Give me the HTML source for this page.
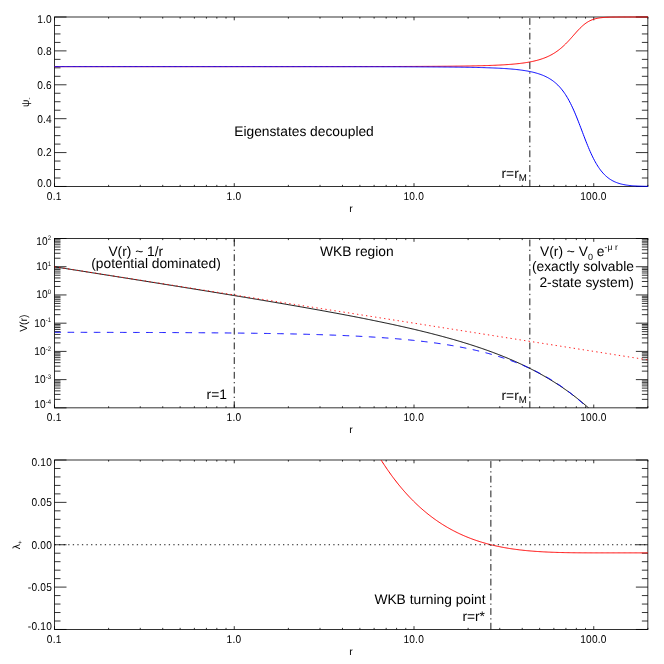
<!DOCTYPE html>
<html><head><meta charset="utf-8"><title>plot</title>
<style>
html,body{margin:0;padding:0;background:#fff;width:664px;height:664px;overflow:hidden}
svg{will-change:transform;opacity:0.999}
svg text{font-family:"Liberation Sans",sans-serif;fill:#000;text-rendering:geometricPrecision}
</style></head><body>
<svg width="664" height="664" viewBox="0 0 664 664" style="position:absolute;left:0;top:0">
<rect width="664" height="664" fill="#fff"/>
<rect x="54.5" y="17.0" width="593.36" height="169.47" stroke="#000" stroke-width="0.8" fill="none"/>
<path d="M54.50,186.47v-3.3M54.50,17.0v3.3M108.61,186.47v-1.6M108.61,17.0v1.6M140.26,186.47v-1.6M140.26,17.0v1.6M162.72,186.47v-1.6M162.72,17.0v1.6M180.14,186.47v-1.6M180.14,17.0v1.6M194.37,186.47v-1.6M194.37,17.0v1.6M206.41,186.47v-1.6M206.41,17.0v1.6M216.83,186.47v-1.6M216.83,17.0v1.6M226.03,186.47v-1.6M226.03,17.0v1.6M234.25,186.47v-3.3M234.25,17.0v3.3M288.36,186.47v-1.6M288.36,17.0v1.6M320.01,186.47v-1.6M320.01,17.0v1.6M342.47,186.47v-1.6M342.47,17.0v1.6M359.89,186.47v-1.6M359.89,17.0v1.6M374.12,186.47v-1.6M374.12,17.0v1.6M386.16,186.47v-1.6M386.16,17.0v1.6M396.58,186.47v-1.6M396.58,17.0v1.6M405.78,186.47v-1.6M405.78,17.0v1.6M414.00,186.47v-3.3M414.00,17.0v3.3M468.11,186.47v-1.6M468.11,17.0v1.6M499.76,186.47v-1.6M499.76,17.0v1.6M522.22,186.47v-1.6M522.22,17.0v1.6M539.64,186.47v-1.6M539.64,17.0v1.6M553.87,186.47v-1.6M553.87,17.0v1.6M565.91,186.47v-1.6M565.91,17.0v1.6M576.33,186.47v-1.6M576.33,17.0v1.6M585.53,186.47v-1.6M585.53,17.0v1.6M593.75,186.47v-3.3M593.75,17.0v3.3M647.86,186.47v-1.6M647.86,17.0v1.6" stroke="#000" stroke-width="0.8" fill="none"/>
<text transform="translate(54.20,199.92) scale(0.9,1)" font-size="11.3" letter-spacing="0.22" text-anchor="middle" >0.1</text>
<text transform="translate(233.95,199.92) scale(0.9,1)" font-size="11.3" letter-spacing="0.22" text-anchor="middle" >1.0</text>
<text transform="translate(413.70,199.92) scale(0.9,1)" font-size="11.3" letter-spacing="0.22" text-anchor="middle" >10.0</text>
<text transform="translate(593.45,199.92) scale(0.9,1)" font-size="11.3" letter-spacing="0.22" text-anchor="middle" >100.0</text>
<text x="351.00" y="211.57" font-size="10.4" text-anchor="middle" >r</text>
<rect x="54.5" y="238.5" width="593.36" height="169.35000000000002" stroke="#000" stroke-width="0.8" fill="none"/>
<path d="M54.50,407.85v-3.3M54.50,238.5v3.3M108.61,407.85v-1.6M108.61,238.5v1.6M140.26,407.85v-1.6M140.26,238.5v1.6M162.72,407.85v-1.6M162.72,238.5v1.6M180.14,407.85v-1.6M180.14,238.5v1.6M194.37,407.85v-1.6M194.37,238.5v1.6M206.41,407.85v-1.6M206.41,238.5v1.6M216.83,407.85v-1.6M216.83,238.5v1.6M226.03,407.85v-1.6M226.03,238.5v1.6M234.25,407.85v-3.3M234.25,238.5v3.3M288.36,407.85v-1.6M288.36,238.5v1.6M320.01,407.85v-1.6M320.01,238.5v1.6M342.47,407.85v-1.6M342.47,238.5v1.6M359.89,407.85v-1.6M359.89,238.5v1.6M374.12,407.85v-1.6M374.12,238.5v1.6M386.16,407.85v-1.6M386.16,238.5v1.6M396.58,407.85v-1.6M396.58,238.5v1.6M405.78,407.85v-1.6M405.78,238.5v1.6M414.00,407.85v-3.3M414.00,238.5v3.3M468.11,407.85v-1.6M468.11,238.5v1.6M499.76,407.85v-1.6M499.76,238.5v1.6M522.22,407.85v-1.6M522.22,238.5v1.6M539.64,407.85v-1.6M539.64,238.5v1.6M553.87,407.85v-1.6M553.87,238.5v1.6M565.91,407.85v-1.6M565.91,238.5v1.6M576.33,407.85v-1.6M576.33,238.5v1.6M585.53,407.85v-1.6M585.53,238.5v1.6M593.75,407.85v-3.3M593.75,238.5v3.3M647.86,407.85v-1.6M647.86,238.5v1.6" stroke="#000" stroke-width="0.8" fill="none"/>
<text transform="translate(54.20,421.30) scale(0.9,1)" font-size="11.3" letter-spacing="0.22" text-anchor="middle" >0.1</text>
<text transform="translate(233.95,421.30) scale(0.9,1)" font-size="11.3" letter-spacing="0.22" text-anchor="middle" >1.0</text>
<text transform="translate(413.70,421.30) scale(0.9,1)" font-size="11.3" letter-spacing="0.22" text-anchor="middle" >10.0</text>
<text transform="translate(593.45,421.30) scale(0.9,1)" font-size="11.3" letter-spacing="0.22" text-anchor="middle" >100.0</text>
<text x="351.00" y="432.95" font-size="10.4" text-anchor="middle" >r</text>
<rect x="54.5" y="460.0" width="593.36" height="169.47000000000003" stroke="#000" stroke-width="0.8" fill="none"/>
<path d="M54.50,629.47v-3.3M54.50,460.0v3.3M108.61,629.47v-1.6M108.61,460.0v1.6M140.26,629.47v-1.6M140.26,460.0v1.6M162.72,629.47v-1.6M162.72,460.0v1.6M180.14,629.47v-1.6M180.14,460.0v1.6M194.37,629.47v-1.6M194.37,460.0v1.6M206.41,629.47v-1.6M206.41,460.0v1.6M216.83,629.47v-1.6M216.83,460.0v1.6M226.03,629.47v-1.6M226.03,460.0v1.6M234.25,629.47v-3.3M234.25,460.0v3.3M288.36,629.47v-1.6M288.36,460.0v1.6M320.01,629.47v-1.6M320.01,460.0v1.6M342.47,629.47v-1.6M342.47,460.0v1.6M359.89,629.47v-1.6M359.89,460.0v1.6M374.12,629.47v-1.6M374.12,460.0v1.6M386.16,629.47v-1.6M386.16,460.0v1.6M396.58,629.47v-1.6M396.58,460.0v1.6M405.78,629.47v-1.6M405.78,460.0v1.6M414.00,629.47v-3.3M414.00,460.0v3.3M468.11,629.47v-1.6M468.11,460.0v1.6M499.76,629.47v-1.6M499.76,460.0v1.6M522.22,629.47v-1.6M522.22,460.0v1.6M539.64,629.47v-1.6M539.64,460.0v1.6M553.87,629.47v-1.6M553.87,460.0v1.6M565.91,629.47v-1.6M565.91,460.0v1.6M576.33,629.47v-1.6M576.33,460.0v1.6M585.53,629.47v-1.6M585.53,460.0v1.6M593.75,629.47v-3.3M593.75,460.0v3.3M647.86,629.47v-1.6M647.86,460.0v1.6" stroke="#000" stroke-width="0.8" fill="none"/>
<text transform="translate(54.20,642.92) scale(0.9,1)" font-size="11.3" letter-spacing="0.22" text-anchor="middle" >0.1</text>
<text transform="translate(233.95,642.92) scale(0.9,1)" font-size="11.3" letter-spacing="0.22" text-anchor="middle" >1.0</text>
<text transform="translate(413.70,642.92) scale(0.9,1)" font-size="11.3" letter-spacing="0.22" text-anchor="middle" >10.0</text>
<text transform="translate(593.45,642.92) scale(0.9,1)" font-size="11.3" letter-spacing="0.22" text-anchor="middle" >100.0</text>
<text x="351.00" y="654.57" font-size="10.4" text-anchor="middle" >r</text>
<text transform="translate(51.90,186.87) scale(0.9,1)" font-size="11.3" letter-spacing="0.22" text-anchor="end" >0.0</text>
<text transform="translate(51.90,156.48) scale(0.9,1)" font-size="11.3" letter-spacing="0.22" text-anchor="end" >0.2</text>
<text transform="translate(51.90,122.58) scale(0.9,1)" font-size="11.3" letter-spacing="0.22" text-anchor="end" >0.4</text>
<text transform="translate(51.90,88.69) scale(0.9,1)" font-size="11.3" letter-spacing="0.22" text-anchor="end" >0.6</text>
<text transform="translate(51.90,54.79) scale(0.9,1)" font-size="11.3" letter-spacing="0.22" text-anchor="end" >0.8</text>
<text transform="translate(51.90,23.00) scale(0.9,1)" font-size="11.3" letter-spacing="0.22" text-anchor="end" >1.0</text>
<path d="M54.5,186.47h12M647.86,186.47h-12M54.5,178.00h6M647.86,178.00h-6M54.5,169.52h6M647.86,169.52h-6M54.5,161.05h6M647.86,161.05h-6M54.5,152.58h12M647.86,152.58h-12M54.5,144.10h6M647.86,144.10h-6M54.5,135.63h6M647.86,135.63h-6M54.5,127.16h6M647.86,127.16h-6M54.5,118.68h12M647.86,118.68h-12M54.5,110.21h6M647.86,110.21h-6M54.5,101.73h6M647.86,101.73h-6M54.5,93.26h6M647.86,93.26h-6M54.5,84.79h12M647.86,84.79h-12M54.5,76.31h6M647.86,76.31h-6M54.5,67.84h6M647.86,67.84h-6M54.5,59.37h6M647.86,59.37h-6M54.5,50.89h12M647.86,50.89h-12M54.5,42.42h6M647.86,42.42h-6M54.5,33.95h6M647.86,33.95h-6M54.5,25.47h6M647.86,25.47h-6M54.5,17.00h12M647.86,17.00h-12" stroke="#000" stroke-width="0.8" fill="none"/>
<text transform="translate(51.30,408.05) scale(0.9,1)" font-size="11.3" letter-spacing="0.15" text-anchor="end">10<tspan font-size="6.6" dy="-4.35">-4</tspan></text>
<text transform="translate(51.30,383.12) scale(0.9,1)" font-size="11.3" letter-spacing="0.15" text-anchor="end">10<tspan font-size="6.6" dy="-4.35">-3</tspan></text>
<text transform="translate(51.30,354.90) scale(0.9,1)" font-size="11.3" letter-spacing="0.15" text-anchor="end">10<tspan font-size="6.6" dy="-4.35">-2</tspan></text>
<text transform="translate(51.30,326.68) scale(0.9,1)" font-size="11.3" letter-spacing="0.15" text-anchor="end">10<tspan font-size="6.6" dy="-4.35">-1</tspan></text>
<text transform="translate(51.30,298.45) scale(0.9,1)" font-size="11.3" letter-spacing="0.15" text-anchor="end">10<tspan font-size="6.6" dy="-4.35">0</tspan></text>
<text transform="translate(51.30,270.23) scale(0.9,1)" font-size="11.3" letter-spacing="0.15" text-anchor="end">10<tspan font-size="6.6" dy="-4.35">1</tspan></text>
<text transform="translate(51.30,244.70) scale(0.9,1)" font-size="11.3" letter-spacing="0.15" text-anchor="end">10<tspan font-size="6.6" dy="-4.35">2</tspan></text>
<path d="M54.5,407.85h12M647.86,407.85h-12M54.5,399.35h6M647.86,399.35h-6M54.5,394.38h6M647.86,394.38h-6M54.5,390.86h6M647.86,390.86h-6M54.5,388.12h6M647.86,388.12h-6M54.5,385.89h6M647.86,385.89h-6M54.5,384.00h6M647.86,384.00h-6M54.5,382.36h6M647.86,382.36h-6M54.5,380.92h6M647.86,380.92h-6M54.5,379.62h12M647.86,379.62h-12M54.5,371.13h6M647.86,371.13h-6M54.5,366.16h6M647.86,366.16h-6M54.5,362.63h6M647.86,362.63h-6M54.5,359.90h6M647.86,359.90h-6M54.5,357.66h6M647.86,357.66h-6M54.5,355.77h6M647.86,355.77h-6M54.5,354.14h6M647.86,354.14h-6M54.5,352.69h6M647.86,352.69h-6M54.5,351.40h12M647.86,351.40h-12M54.5,342.90h6M647.86,342.90h-6M54.5,337.93h6M647.86,337.93h-6M54.5,334.41h6M647.86,334.41h-6M54.5,331.67h6M647.86,331.67h-6M54.5,329.44h6M647.86,329.44h-6M54.5,327.55h6M647.86,327.55h-6M54.5,325.91h6M647.86,325.91h-6M54.5,324.47h6M647.86,324.47h-6M54.5,323.18h12M647.86,323.18h-12M54.5,314.68h6M647.86,314.68h-6M54.5,309.71h6M647.86,309.71h-6M54.5,306.18h6M647.86,306.18h-6M54.5,303.45h6M647.86,303.45h-6M54.5,301.21h6M647.86,301.21h-6M54.5,299.32h6M647.86,299.32h-6M54.5,297.69h6M647.86,297.69h-6M54.5,296.24h6M647.86,296.24h-6M54.5,294.95h12M647.86,294.95h-12M54.5,286.45h6M647.86,286.45h-6M54.5,281.48h6M647.86,281.48h-6M54.5,277.96h6M647.86,277.96h-6M54.5,275.22h6M647.86,275.22h-6M54.5,272.99h6M647.86,272.99h-6M54.5,271.10h6M647.86,271.10h-6M54.5,269.46h6M647.86,269.46h-6M54.5,268.02h6M647.86,268.02h-6M54.5,266.73h12M647.86,266.73h-12M54.5,258.23h6M647.86,258.23h-6M54.5,253.26h6M647.86,253.26h-6M54.5,249.73h6M647.86,249.73h-6M54.5,247.00h6M647.86,247.00h-6M54.5,244.76h6M647.86,244.76h-6M54.5,242.87h6M647.86,242.87h-6M54.5,241.24h6M647.86,241.24h-6M54.5,239.79h6M647.86,239.79h-6M54.5,238.50h12M647.86,238.50h-12" stroke="#000" stroke-width="0.8" fill="none"/>
<text transform="translate(52.00,629.87) scale(0.9,1)" font-size="11.3" letter-spacing="0.22" text-anchor="end" >-0.10</text>
<text transform="translate(52.00,591.00) scale(0.9,1)" font-size="11.3" letter-spacing="0.22" text-anchor="end" >-0.05</text>
<text transform="translate(52.00,548.63) scale(0.9,1)" font-size="11.3" letter-spacing="0.22" text-anchor="end" >0.00</text>
<text transform="translate(52.00,506.27) scale(0.9,1)" font-size="11.3" letter-spacing="0.22" text-anchor="end" >0.05</text>
<text transform="translate(52.00,466.00) scale(0.9,1)" font-size="11.3" letter-spacing="0.22" text-anchor="end" >0.10</text>
<path d="M54.5,629.47h12M647.86,629.47h-12M54.5,621.00h6M647.86,621.00h-6M54.5,612.52h6M647.86,612.52h-6M54.5,604.05h6M647.86,604.05h-6M54.5,595.58h6M647.86,595.58h-6M54.5,587.10h12M647.86,587.10h-12M54.5,578.63h6M647.86,578.63h-6M54.5,570.16h6M647.86,570.16h-6M54.5,561.68h6M647.86,561.68h-6M54.5,553.21h6M647.86,553.21h-6M54.5,544.74h12M647.86,544.74h-12M54.5,536.26h6M647.86,536.26h-6M54.5,527.79h6M647.86,527.79h-6M54.5,519.31h6M647.86,519.31h-6M54.5,510.84h6M647.86,510.84h-6M54.5,502.37h12M647.86,502.37h-12M54.5,493.89h6M647.86,493.89h-6M54.5,485.42h6M647.86,485.42h-6M54.5,476.95h6M647.86,476.95h-6M54.5,468.47h6M647.86,468.47h-6M54.5,460.00h12M647.86,460.00h-12" stroke="#000" stroke-width="0.8" fill="none"/>
<text transform="translate(28.9,102.3) rotate(-90)" font-size="10.4" text-anchor="middle">ψ<tspan font-size="6" dy="2.2">-</tspan></text>
<text transform="translate(26.6,323.2) rotate(-90)" font-size="10.4" text-anchor="middle">V(r)</tspan></text>
<text transform="translate(19.9,544.8) rotate(-90)" font-size="10.4" text-anchor="middle">λ<tspan font-size="6" dy="2.2">+</tspan></text>
<path d="M54.50,66.64 L55.35,66.64 L56.20,66.64 L57.05,66.64 L57.90,66.64 L58.74,66.64 L59.59,66.64 L60.44,66.64 L61.29,66.64 L62.14,66.64 L62.99,66.64 L63.84,66.64 L64.69,66.64 L65.54,66.64 L66.38,66.64 L67.23,66.64 L68.08,66.64 L68.93,66.64 L69.78,66.64 L70.63,66.64 L71.48,66.64 L72.33,66.64 L73.18,66.64 L74.02,66.64 L74.87,66.64 L75.72,66.64 L76.57,66.64 L77.42,66.63 L78.27,66.63 L79.12,66.63 L79.97,66.63 L80.81,66.63 L81.66,66.63 L82.51,66.63 L83.36,66.63 L84.21,66.63 L85.06,66.63 L85.91,66.63 L86.76,66.63 L87.61,66.63 L88.45,66.63 L89.30,66.63 L90.15,66.63 L91.00,66.63 L91.85,66.63 L92.70,66.63 L93.55,66.63 L94.40,66.63 L95.25,66.63 L96.09,66.63 L96.94,66.63 L97.79,66.63 L98.64,66.63 L99.49,66.63 L100.34,66.63 L101.19,66.63 L102.04,66.63 L102.89,66.63 L103.73,66.63 L104.58,66.63 L105.43,66.63 L106.28,66.63 L107.13,66.63 L107.98,66.63 L108.83,66.63 L109.68,66.63 L110.53,66.63 L111.37,66.63 L112.22,66.63 L113.07,66.63 L113.92,66.63 L114.77,66.63 L115.62,66.63 L116.47,66.63 L117.32,66.63 L118.17,66.63 L119.01,66.63 L119.86,66.63 L120.71,66.63 L121.56,66.63 L122.41,66.63 L123.26,66.63 L124.11,66.63 L124.96,66.63 L125.81,66.63 L126.65,66.63 L127.50,66.63 L128.35,66.63 L129.20,66.63 L130.05,66.63 L130.90,66.63 L131.75,66.63 L132.60,66.63 L133.44,66.63 L134.29,66.63 L135.14,66.63 L135.99,66.63 L136.84,66.63 L137.69,66.63 L138.54,66.63 L139.39,66.63 L140.24,66.63 L141.08,66.63 L141.93,66.63 L142.78,66.63 L143.63,66.63 L144.48,66.63 L145.33,66.63 L146.18,66.63 L147.03,66.63 L147.88,66.63 L148.72,66.63 L149.57,66.63 L150.42,66.63 L151.27,66.63 L152.12,66.63 L152.97,66.63 L153.82,66.63 L154.67,66.63 L155.52,66.63 L156.36,66.63 L157.21,66.63 L158.06,66.63 L158.91,66.63 L159.76,66.63 L160.61,66.63 L161.46,66.63 L162.31,66.63 L163.16,66.63 L164.00,66.63 L164.85,66.63 L165.70,66.63 L166.55,66.63 L167.40,66.63 L168.25,66.63 L169.10,66.63 L169.95,66.63 L170.80,66.63 L171.64,66.63 L172.49,66.63 L173.34,66.63 L174.19,66.63 L175.04,66.63 L175.89,66.63 L176.74,66.63 L177.59,66.63 L178.44,66.63 L179.28,66.63 L180.13,66.63 L180.98,66.63 L181.83,66.63 L182.68,66.63 L183.53,66.63 L184.38,66.63 L185.23,66.63 L186.07,66.63 L186.92,66.63 L187.77,66.63 L188.62,66.63 L189.47,66.63 L190.32,66.63 L191.17,66.63 L192.02,66.63 L192.87,66.63 L193.71,66.63 L194.56,66.63 L195.41,66.63 L196.26,66.63 L197.11,66.63 L197.96,66.63 L198.81,66.63 L199.66,66.63 L200.51,66.63 L201.35,66.63 L202.20,66.63 L203.05,66.63 L203.90,66.63 L204.75,66.63 L205.60,66.63 L206.45,66.63 L207.30,66.63 L208.15,66.63 L208.99,66.63 L209.84,66.63 L210.69,66.63 L211.54,66.63 L212.39,66.63 L213.24,66.63 L214.09,66.63 L214.94,66.63 L215.79,66.63 L216.63,66.63 L217.48,66.63 L218.33,66.63 L219.18,66.63 L220.03,66.63 L220.88,66.63 L221.73,66.63 L222.58,66.63 L223.43,66.63 L224.27,66.63 L225.12,66.63 L225.97,66.63 L226.82,66.63 L227.67,66.63 L228.52,66.62 L229.37,66.62 L230.22,66.62 L231.06,66.62 L231.91,66.62 L232.76,66.62 L233.61,66.62 L234.46,66.62 L235.31,66.62 L236.16,66.62 L237.01,66.62 L237.86,66.62 L238.70,66.62 L239.55,66.62 L240.40,66.62 L241.25,66.62 L242.10,66.62 L242.95,66.62 L243.80,66.62 L244.65,66.62 L245.50,66.62 L246.34,66.62 L247.19,66.62 L248.04,66.62 L248.89,66.62 L249.74,66.62 L250.59,66.62 L251.44,66.62 L252.29,66.62 L253.14,66.62 L253.98,66.62 L254.83,66.62 L255.68,66.62 L256.53,66.62 L257.38,66.62 L258.23,66.62 L259.08,66.62 L259.93,66.62 L260.78,66.62 L261.62,66.62 L262.47,66.62 L263.32,66.62 L264.17,66.62 L265.02,66.62 L265.87,66.62 L266.72,66.62 L267.57,66.62 L268.42,66.62 L269.26,66.62 L270.11,66.62 L270.96,66.62 L271.81,66.62 L272.66,66.62 L273.51,66.62 L274.36,66.61 L275.21,66.61 L276.06,66.61 L276.90,66.61 L277.75,66.61 L278.60,66.61 L279.45,66.61 L280.30,66.61 L281.15,66.61 L282.00,66.61 L282.85,66.61 L283.69,66.61 L284.54,66.61 L285.39,66.61 L286.24,66.61 L287.09,66.61 L287.94,66.61 L288.79,66.61 L289.64,66.61 L290.49,66.61 L291.33,66.61 L292.18,66.61 L293.03,66.61 L293.88,66.61 L294.73,66.61 L295.58,66.61 L296.43,66.61 L297.28,66.61 L298.13,66.61 L298.97,66.61 L299.82,66.61 L300.67,66.61 L301.52,66.60 L302.37,66.60 L303.22,66.60 L304.07,66.60 L304.92,66.60 L305.77,66.60 L306.61,66.60 L307.46,66.60 L308.31,66.60 L309.16,66.60 L310.01,66.60 L310.86,66.60 L311.71,66.60 L312.56,66.60 L313.41,66.60 L314.25,66.60 L315.10,66.60 L315.95,66.60 L316.80,66.60 L317.65,66.60 L318.50,66.60 L319.35,66.60 L320.20,66.59 L321.05,66.59 L321.89,66.59 L322.74,66.59 L323.59,66.59 L324.44,66.59 L325.29,66.59 L326.14,66.59 L326.99,66.59 L327.84,66.59 L328.69,66.59 L329.53,66.59 L330.38,66.59 L331.23,66.59 L332.08,66.59 L332.93,66.59 L333.78,66.59 L334.63,66.58 L335.48,66.58 L336.32,66.58 L337.17,66.58 L338.02,66.58 L338.87,66.58 L339.72,66.58 L340.57,66.58 L341.42,66.58 L342.27,66.58 L343.12,66.58 L343.96,66.58 L344.81,66.58 L345.66,66.58 L346.51,66.57 L347.36,66.57 L348.21,66.57 L349.06,66.57 L349.91,66.57 L350.76,66.57 L351.60,66.57 L352.45,66.57 L353.30,66.57 L354.15,66.57 L355.00,66.57 L355.85,66.56 L356.70,66.56 L357.55,66.56 L358.40,66.56 L359.24,66.56 L360.09,66.56 L360.94,66.56 L361.79,66.56 L362.64,66.56 L363.49,66.56 L364.34,66.55 L365.19,66.55 L366.04,66.55 L366.88,66.55 L367.73,66.55 L368.58,66.55 L369.43,66.55 L370.28,66.55 L371.13,66.54 L371.98,66.54 L372.83,66.54 L373.68,66.54 L374.52,66.54 L375.37,66.54 L376.22,66.54 L377.07,66.53 L377.92,66.53 L378.77,66.53 L379.62,66.53 L380.47,66.53 L381.31,66.53 L382.16,66.53 L383.01,66.52 L383.86,66.52 L384.71,66.52 L385.56,66.52 L386.41,66.52 L387.26,66.52 L388.11,66.51 L388.95,66.51 L389.80,66.51 L390.65,66.51 L391.50,66.51 L392.35,66.50 L393.20,66.50 L394.05,66.50 L394.90,66.50 L395.75,66.50 L396.59,66.49 L397.44,66.49 L398.29,66.49 L399.14,66.49 L399.99,66.48 L400.84,66.48 L401.69,66.48 L402.54,66.48 L403.39,66.47 L404.23,66.47 L405.08,66.47 L405.93,66.47 L406.78,66.46 L407.63,66.46 L408.48,66.46 L409.33,66.46 L410.18,66.45 L411.03,66.45 L411.87,66.45 L412.72,66.44 L413.57,66.44 L414.42,66.44 L415.27,66.43 L416.12,66.43 L416.97,66.43 L417.82,66.42 L418.67,66.42 L419.51,66.42 L420.36,66.41 L421.21,66.41 L422.06,66.41 L422.91,66.40 L423.76,66.40 L424.61,66.39 L425.46,66.39 L426.31,66.38 L427.15,66.38 L428.00,66.38 L428.85,66.37 L429.70,66.37 L430.55,66.36 L431.40,66.36 L432.25,66.35 L433.10,66.35 L433.94,66.34 L434.79,66.34 L435.64,66.33 L436.49,66.33 L437.34,66.32 L438.19,66.31 L439.04,66.31 L439.89,66.30 L440.74,66.30 L441.58,66.29 L442.43,66.28 L443.28,66.28 L444.13,66.27 L444.98,66.26 L445.83,66.26 L446.68,66.25 L447.53,66.24 L448.38,66.23 L449.22,66.22 L450.07,66.22 L450.92,66.21 L451.77,66.20 L452.62,66.19 L453.47,66.18 L454.32,66.17 L455.17,66.16 L456.02,66.15 L456.86,66.14 L457.71,66.13 L458.56,66.12 L459.41,66.11 L460.26,66.10 L461.11,66.09 L461.96,66.08 L462.81,66.07 L463.66,66.06 L464.50,66.04 L465.35,66.03 L466.20,66.02 L467.05,66.00 L467.90,65.99 L468.75,65.98 L469.60,65.96 L470.45,65.95 L471.30,65.93 L472.14,65.92 L472.99,65.90 L473.84,65.88 L474.69,65.87 L475.54,65.85 L476.39,65.83 L477.24,65.81 L478.09,65.79 L478.94,65.77 L479.78,65.75 L480.63,65.73 L481.48,65.71 L482.33,65.69 L483.18,65.66 L484.03,65.64 L484.88,65.61 L485.73,65.59 L486.57,65.56 L487.42,65.54 L488.27,65.51 L489.12,65.48 L489.97,65.45 L490.82,65.42 L491.67,65.39 L492.52,65.36 L493.37,65.32 L494.21,65.29 L495.06,65.26 L495.91,65.22 L496.76,65.18 L497.61,65.14 L498.46,65.10 L499.31,65.06 L500.16,65.02 L501.01,64.97 L501.85,64.93 L502.70,64.88 L503.55,64.83 L504.40,64.78 L505.25,64.72 L506.10,64.67 L506.95,64.61 L507.80,64.55 L508.65,64.49 L509.49,64.43 L510.34,64.37 L511.19,64.30 L512.04,64.23 L512.89,64.16 L513.74,64.08 L514.59,64.00 L515.44,63.92 L516.29,63.84 L517.13,63.75 L517.98,63.66 L518.83,63.57 L519.68,63.47 L520.53,63.37 L521.38,63.26 L522.23,63.15 L523.08,63.04 L523.93,62.92 L524.77,62.80 L525.62,62.67 L526.47,62.53 L527.32,62.40 L528.17,62.25 L529.02,62.10 L529.87,61.94 L530.72,61.78 L531.56,61.61 L532.41,61.44 L533.26,61.25 L534.11,61.06 L534.96,60.86 L535.81,60.65 L536.66,60.44 L537.51,60.21 L538.36,59.97 L539.20,59.73 L540.05,59.47 L540.90,59.20 L541.75,58.92 L542.60,58.63 L543.45,58.33 L544.30,58.01 L545.15,57.68 L546.00,57.34 L546.84,56.98 L547.69,56.60 L548.54,56.21 L549.39,55.80 L550.24,55.37 L551.09,54.93 L551.94,54.47 L552.79,53.98 L553.64,53.48 L554.48,52.96 L555.33,52.41 L556.18,51.84 L557.03,51.25 L557.88,50.64 L558.73,50.00 L559.58,49.34 L560.43,48.65 L561.28,47.94 L562.12,47.21 L562.97,46.45 L563.82,45.66 L564.67,44.86 L565.52,44.03 L566.37,43.17 L567.22,42.30 L568.07,41.41 L568.92,40.50 L569.76,39.57 L570.61,38.63 L571.46,37.68 L572.31,36.72 L573.16,35.76 L574.01,34.79 L574.86,33.83 L575.71,32.87 L576.56,31.92 L577.40,30.99 L578.25,30.08 L579.10,29.18 L579.95,28.31 L580.80,27.47 L581.65,26.67 L582.50,25.89 L583.35,25.15 L584.19,24.45 L585.04,23.79 L585.89,23.17 L586.74,22.59 L587.59,22.05 L588.44,21.55 L589.29,21.09 L590.14,20.66 L590.99,20.27 L591.83,19.92 L592.68,19.59 L593.53,19.30 L594.38,19.04 L595.23,18.80 L596.08,18.59 L596.93,18.40 L597.78,18.23 L598.63,18.08 L599.47,17.94 L600.32,17.82 L601.17,17.72 L602.02,17.62 L602.87,17.54 L603.72,17.47 L604.57,17.41 L605.42,17.35 L606.27,17.30 L607.11,17.26 L607.96,17.23 L608.81,17.19 L609.66,17.17 L610.51,17.14 L611.36,17.12 L612.21,17.10 L613.06,17.09 L613.91,17.08 L614.75,17.06 L615.60,17.05 L616.45,17.05 L617.30,17.04 L618.15,17.03 L619.00,17.03 L619.85,17.02 L620.70,17.02 L621.55,17.02 L622.39,17.01 L623.24,17.01 L624.09,17.01 L624.94,17.01 L625.79,17.01 L626.64,17.01 L627.49,17.00 L628.34,17.00 L629.19,17.00 L630.03,17.00 L630.88,17.00 L631.73,17.00 L632.58,17.00 L633.43,17.00 L634.28,17.00 L635.13,17.00 L635.98,17.00 L636.82,17.00 L637.67,17.00 L638.52,17.00 L639.37,17.00 L640.22,17.00 L641.07,17.00 L641.92,17.00 L642.77,17.00 L643.62,17.00 L644.46,17.00 L645.31,17.00 L646.16,17.00 L647.01,17.00 L647.86,17.00" stroke="#ff0000" stroke-width="1.0" fill="none"/>
<path d="M54.50,66.64 L55.35,66.64 L56.20,66.64 L57.05,66.64 L57.90,66.64 L58.74,66.64 L59.59,66.64 L60.44,66.64 L61.29,66.64 L62.14,66.64 L62.99,66.64 L63.84,66.64 L64.69,66.64 L65.54,66.64 L66.38,66.64 L67.23,66.64 L68.08,66.64 L68.93,66.64 L69.78,66.64 L70.63,66.64 L71.48,66.64 L72.33,66.64 L73.18,66.64 L74.02,66.64 L74.87,66.64 L75.72,66.64 L76.57,66.64 L77.42,66.64 L78.27,66.64 L79.12,66.64 L79.97,66.64 L80.81,66.64 L81.66,66.64 L82.51,66.64 L83.36,66.64 L84.21,66.64 L85.06,66.64 L85.91,66.64 L86.76,66.64 L87.61,66.64 L88.45,66.64 L89.30,66.64 L90.15,66.64 L91.00,66.64 L91.85,66.64 L92.70,66.64 L93.55,66.64 L94.40,66.64 L95.25,66.64 L96.09,66.64 L96.94,66.64 L97.79,66.64 L98.64,66.64 L99.49,66.64 L100.34,66.64 L101.19,66.64 L102.04,66.64 L102.89,66.64 L103.73,66.64 L104.58,66.64 L105.43,66.64 L106.28,66.64 L107.13,66.64 L107.98,66.64 L108.83,66.64 L109.68,66.64 L110.53,66.64 L111.37,66.64 L112.22,66.64 L113.07,66.64 L113.92,66.64 L114.77,66.64 L115.62,66.64 L116.47,66.64 L117.32,66.64 L118.17,66.64 L119.01,66.64 L119.86,66.64 L120.71,66.64 L121.56,66.64 L122.41,66.64 L123.26,66.64 L124.11,66.64 L124.96,66.64 L125.81,66.64 L126.65,66.64 L127.50,66.64 L128.35,66.64 L129.20,66.64 L130.05,66.64 L130.90,66.64 L131.75,66.64 L132.60,66.64 L133.44,66.64 L134.29,66.64 L135.14,66.64 L135.99,66.64 L136.84,66.64 L137.69,66.64 L138.54,66.64 L139.39,66.64 L140.24,66.64 L141.08,66.64 L141.93,66.64 L142.78,66.64 L143.63,66.64 L144.48,66.64 L145.33,66.64 L146.18,66.64 L147.03,66.64 L147.88,66.64 L148.72,66.64 L149.57,66.64 L150.42,66.64 L151.27,66.64 L152.12,66.64 L152.97,66.64 L153.82,66.64 L154.67,66.64 L155.52,66.64 L156.36,66.64 L157.21,66.64 L158.06,66.64 L158.91,66.64 L159.76,66.64 L160.61,66.64 L161.46,66.64 L162.31,66.64 L163.16,66.64 L164.00,66.64 L164.85,66.64 L165.70,66.64 L166.55,66.64 L167.40,66.64 L168.25,66.64 L169.10,66.64 L169.95,66.64 L170.80,66.64 L171.64,66.64 L172.49,66.64 L173.34,66.64 L174.19,66.64 L175.04,66.64 L175.89,66.64 L176.74,66.64 L177.59,66.64 L178.44,66.64 L179.28,66.64 L180.13,66.64 L180.98,66.64 L181.83,66.64 L182.68,66.64 L183.53,66.64 L184.38,66.64 L185.23,66.64 L186.07,66.64 L186.92,66.64 L187.77,66.64 L188.62,66.64 L189.47,66.64 L190.32,66.64 L191.17,66.64 L192.02,66.64 L192.87,66.64 L193.71,66.64 L194.56,66.64 L195.41,66.64 L196.26,66.64 L197.11,66.64 L197.96,66.64 L198.81,66.64 L199.66,66.64 L200.51,66.64 L201.35,66.64 L202.20,66.64 L203.05,66.64 L203.90,66.65 L204.75,66.65 L205.60,66.65 L206.45,66.65 L207.30,66.65 L208.15,66.65 L208.99,66.65 L209.84,66.65 L210.69,66.65 L211.54,66.65 L212.39,66.65 L213.24,66.65 L214.09,66.65 L214.94,66.65 L215.79,66.65 L216.63,66.65 L217.48,66.65 L218.33,66.65 L219.18,66.65 L220.03,66.65 L220.88,66.65 L221.73,66.65 L222.58,66.65 L223.43,66.65 L224.27,66.65 L225.12,66.65 L225.97,66.65 L226.82,66.65 L227.67,66.65 L228.52,66.65 L229.37,66.65 L230.22,66.65 L231.06,66.65 L231.91,66.65 L232.76,66.65 L233.61,66.65 L234.46,66.65 L235.31,66.65 L236.16,66.65 L237.01,66.65 L237.86,66.65 L238.70,66.65 L239.55,66.65 L240.40,66.65 L241.25,66.65 L242.10,66.65 L242.95,66.65 L243.80,66.65 L244.65,66.65 L245.50,66.65 L246.34,66.65 L247.19,66.65 L248.04,66.65 L248.89,66.65 L249.74,66.65 L250.59,66.65 L251.44,66.65 L252.29,66.65 L253.14,66.65 L253.98,66.65 L254.83,66.65 L255.68,66.65 L256.53,66.65 L257.38,66.65 L258.23,66.65 L259.08,66.65 L259.93,66.65 L260.78,66.65 L261.62,66.65 L262.47,66.66 L263.32,66.66 L264.17,66.66 L265.02,66.66 L265.87,66.66 L266.72,66.66 L267.57,66.66 L268.42,66.66 L269.26,66.66 L270.11,66.66 L270.96,66.66 L271.81,66.66 L272.66,66.66 L273.51,66.66 L274.36,66.66 L275.21,66.66 L276.06,66.66 L276.90,66.66 L277.75,66.66 L278.60,66.66 L279.45,66.66 L280.30,66.66 L281.15,66.66 L282.00,66.66 L282.85,66.66 L283.69,66.66 L284.54,66.66 L285.39,66.66 L286.24,66.66 L287.09,66.66 L287.94,66.66 L288.79,66.66 L289.64,66.66 L290.49,66.66 L291.33,66.66 L292.18,66.66 L293.03,66.66 L293.88,66.67 L294.73,66.67 L295.58,66.67 L296.43,66.67 L297.28,66.67 L298.13,66.67 L298.97,66.67 L299.82,66.67 L300.67,66.67 L301.52,66.67 L302.37,66.67 L303.22,66.67 L304.07,66.67 L304.92,66.67 L305.77,66.67 L306.61,66.67 L307.46,66.67 L308.31,66.67 L309.16,66.67 L310.01,66.67 L310.86,66.67 L311.71,66.67 L312.56,66.67 L313.41,66.67 L314.25,66.68 L315.10,66.68 L315.95,66.68 L316.80,66.68 L317.65,66.68 L318.50,66.68 L319.35,66.68 L320.20,66.68 L321.05,66.68 L321.89,66.68 L322.74,66.68 L323.59,66.68 L324.44,66.68 L325.29,66.68 L326.14,66.68 L326.99,66.68 L327.84,66.68 L328.69,66.68 L329.53,66.68 L330.38,66.69 L331.23,66.69 L332.08,66.69 L332.93,66.69 L333.78,66.69 L334.63,66.69 L335.48,66.69 L336.32,66.69 L337.17,66.69 L338.02,66.69 L338.87,66.69 L339.72,66.69 L340.57,66.69 L341.42,66.69 L342.27,66.69 L343.12,66.70 L343.96,66.70 L344.81,66.70 L345.66,66.70 L346.51,66.70 L347.36,66.70 L348.21,66.70 L349.06,66.70 L349.91,66.70 L350.76,66.70 L351.60,66.70 L352.45,66.71 L353.30,66.71 L354.15,66.71 L355.00,66.71 L355.85,66.71 L356.70,66.71 L357.55,66.71 L358.40,66.71 L359.24,66.71 L360.09,66.71 L360.94,66.71 L361.79,66.72 L362.64,66.72 L363.49,66.72 L364.34,66.72 L365.19,66.72 L366.04,66.72 L366.88,66.72 L367.73,66.72 L368.58,66.73 L369.43,66.73 L370.28,66.73 L371.13,66.73 L371.98,66.73 L372.83,66.73 L373.68,66.73 L374.52,66.73 L375.37,66.74 L376.22,66.74 L377.07,66.74 L377.92,66.74 L378.77,66.74 L379.62,66.74 L380.47,66.74 L381.31,66.75 L382.16,66.75 L383.01,66.75 L383.86,66.75 L384.71,66.75 L385.56,66.75 L386.41,66.76 L387.26,66.76 L388.11,66.76 L388.95,66.76 L389.80,66.76 L390.65,66.77 L391.50,66.77 L392.35,66.77 L393.20,66.77 L394.05,66.77 L394.90,66.78 L395.75,66.78 L396.59,66.78 L397.44,66.78 L398.29,66.78 L399.14,66.79 L399.99,66.79 L400.84,66.79 L401.69,66.79 L402.54,66.80 L403.39,66.80 L404.23,66.80 L405.08,66.80 L405.93,66.81 L406.78,66.81 L407.63,66.81 L408.48,66.81 L409.33,66.82 L410.18,66.82 L411.03,66.82 L411.87,66.83 L412.72,66.83 L413.57,66.83 L414.42,66.84 L415.27,66.84 L416.12,66.84 L416.97,66.85 L417.82,66.85 L418.67,66.85 L419.51,66.86 L420.36,66.86 L421.21,66.86 L422.06,66.87 L422.91,66.87 L423.76,66.88 L424.61,66.88 L425.46,66.88 L426.31,66.89 L427.15,66.89 L428.00,66.90 L428.85,66.90 L429.70,66.91 L430.55,66.91 L431.40,66.92 L432.25,66.92 L433.10,66.93 L433.94,66.93 L434.79,66.94 L435.64,66.94 L436.49,66.95 L437.34,66.95 L438.19,66.96 L439.04,66.97 L439.89,66.97 L440.74,66.98 L441.58,66.98 L442.43,66.99 L443.28,67.00 L444.13,67.00 L444.98,67.01 L445.83,67.02 L446.68,67.03 L447.53,67.03 L448.38,67.04 L449.22,67.05 L450.07,67.06 L450.92,67.07 L451.77,67.07 L452.62,67.08 L453.47,67.09 L454.32,67.10 L455.17,67.11 L456.02,67.12 L456.86,67.13 L457.71,67.14 L458.56,67.15 L459.41,67.16 L460.26,67.17 L461.11,67.18 L461.96,67.20 L462.81,67.21 L463.66,67.22 L464.50,67.23 L465.35,67.25 L466.20,67.26 L467.05,67.27 L467.90,67.29 L468.75,67.30 L469.60,67.32 L470.45,67.33 L471.30,67.35 L472.14,67.36 L472.99,67.38 L473.84,67.40 L474.69,67.41 L475.54,67.43 L476.39,67.45 L477.24,67.47 L478.09,67.49 L478.94,67.51 L479.78,67.53 L480.63,67.55 L481.48,67.57 L482.33,67.59 L483.18,67.62 L484.03,67.64 L484.88,67.67 L485.73,67.69 L486.57,67.72 L487.42,67.75 L488.27,67.77 L489.12,67.80 L489.97,67.83 L490.82,67.86 L491.67,67.90 L492.52,67.93 L493.37,67.96 L494.21,68.00 L495.06,68.03 L495.91,68.07 L496.76,68.11 L497.61,68.15 L498.46,68.19 L499.31,68.23 L500.16,68.28 L501.01,68.32 L501.85,68.37 L502.70,68.42 L503.55,68.47 L504.40,68.52 L505.25,68.58 L506.10,68.64 L506.95,68.69 L507.80,68.76 L508.65,68.82 L509.49,68.88 L510.34,68.95 L511.19,69.02 L512.04,69.09 L512.89,69.17 L513.74,69.25 L514.59,69.33 L515.44,69.42 L516.29,69.50 L517.13,69.59 L517.98,69.69 L518.83,69.79 L519.68,69.89 L520.53,70.00 L521.38,70.11 L522.23,70.23 L523.08,70.35 L523.93,70.47 L524.77,70.61 L525.62,70.74 L526.47,70.88 L527.32,71.03 L528.17,71.19 L529.02,71.35 L529.87,71.52 L530.72,71.70 L531.56,71.88 L532.41,72.07 L533.26,72.27 L534.11,72.49 L534.96,72.71 L535.81,72.94 L536.66,73.18 L537.51,73.43 L538.36,73.69 L539.20,73.97 L540.05,74.26 L540.90,74.56 L541.75,74.88 L542.60,75.21 L543.45,75.56 L544.30,75.93 L545.15,76.32 L546.00,76.72 L546.84,77.15 L547.69,77.59 L548.54,78.06 L549.39,78.56 L550.24,79.07 L551.09,79.62 L551.94,80.19 L552.79,80.79 L553.64,81.43 L554.48,82.10 L555.33,82.80 L556.18,83.54 L557.03,84.31 L557.88,85.13 L558.73,85.99 L559.58,86.90 L560.43,87.85 L561.28,88.85 L562.12,89.90 L562.97,91.00 L563.82,92.16 L564.67,93.38 L565.52,94.65 L566.37,95.99 L567.22,97.39 L568.07,98.85 L568.92,100.38 L569.76,101.97 L570.61,103.62 L571.46,105.35 L572.31,107.13 L573.16,108.98 L574.01,110.88 L574.86,112.85 L575.71,114.86 L576.56,116.93 L577.40,119.04 L578.25,121.19 L579.10,123.38 L579.95,125.59 L580.80,127.81 L581.65,130.05 L582.50,132.30 L583.35,134.54 L584.19,136.76 L585.04,138.97 L585.89,141.15 L586.74,143.30 L587.59,145.41 L588.44,147.47 L589.29,149.48 L590.14,151.43 L590.99,153.33 L591.83,155.16 L592.68,156.93 L593.53,158.63 L594.38,160.26 L595.23,161.83 L596.08,163.33 L596.93,164.76 L597.78,166.12 L598.63,167.41 L599.47,168.64 L600.32,169.80 L601.17,170.91 L602.02,171.95 L602.87,172.93 L603.72,173.86 L604.57,174.74 L605.42,175.56 L606.27,176.33 L607.11,177.06 L607.96,177.74 L608.81,178.38 L609.66,178.97 L610.51,179.53 L611.36,180.05 L612.21,180.54 L613.06,181.00 L613.91,181.42 L614.75,181.82 L615.60,182.18 L616.45,182.53 L617.30,182.84 L618.15,183.14 L619.00,183.41 L619.85,183.66 L620.70,183.90 L621.55,184.11 L622.39,184.31 L623.24,184.50 L624.09,184.67 L624.94,184.83 L625.79,184.97 L626.64,185.11 L627.49,185.23 L628.34,185.34 L629.19,185.44 L630.03,185.54 L630.88,185.63 L631.73,185.71 L632.58,185.78 L633.43,185.84 L634.28,185.90 L635.13,185.96 L635.98,186.01 L636.82,186.06 L637.67,186.10 L638.52,186.14 L639.37,186.17 L640.22,186.20 L641.07,186.23 L641.92,186.25 L642.77,186.28 L643.62,186.30 L644.46,186.32 L645.31,186.33 L646.16,186.35 L647.01,186.36 L647.86,186.37" stroke="#0000ff" stroke-width="1.0" fill="none"/>
<path d="M529.84,17.0V186.47" stroke="#000" stroke-width="0.9" fill="none" stroke-dasharray="6.8,3.3,1.3,3.3" stroke-dashoffset="-1.1"/>
<clipPath id="c2"><rect x="54.5" y="238.5" width="593.36" height="169.35000000000002"/></clipPath>
<g clip-path="url(#c2)">
<path d="M54.50,266.79 L55.35,266.92 L56.20,267.05 L57.05,267.19 L57.90,267.32 L58.74,267.46 L59.59,267.59 L60.44,267.72 L61.29,267.86 L62.14,267.99 L62.99,268.13 L63.84,268.26 L64.69,268.39 L65.54,268.53 L66.38,268.66 L67.23,268.80 L68.08,268.93 L68.93,269.06 L69.78,269.20 L70.63,269.33 L71.48,269.47 L72.33,269.60 L73.18,269.74 L74.02,269.87 L74.87,270.00 L75.72,270.14 L76.57,270.27 L77.42,270.41 L78.27,270.54 L79.12,270.67 L79.97,270.81 L80.81,270.94 L81.66,271.08 L82.51,271.21 L83.36,271.35 L84.21,271.48 L85.06,271.61 L85.91,271.75 L86.76,271.88 L87.61,272.02 L88.45,272.15 L89.30,272.29 L90.15,272.42 L91.00,272.55 L91.85,272.69 L92.70,272.82 L93.55,272.96 L94.40,273.09 L95.25,273.23 L96.09,273.36 L96.94,273.50 L97.79,273.63 L98.64,273.76 L99.49,273.90 L100.34,274.03 L101.19,274.17 L102.04,274.30 L102.89,274.44 L103.73,274.57 L104.58,274.71 L105.43,274.84 L106.28,274.97 L107.13,275.11 L107.98,275.24 L108.83,275.38 L109.68,275.51 L110.53,275.65 L111.37,275.78 L112.22,275.92 L113.07,276.05 L113.92,276.19 L114.77,276.32 L115.62,276.46 L116.47,276.59 L117.32,276.73 L118.17,276.86 L119.01,277.00 L119.86,277.13 L120.71,277.26 L121.56,277.40 L122.41,277.53 L123.26,277.67 L124.11,277.80 L124.96,277.94 L125.81,278.07 L126.65,278.21 L127.50,278.34 L128.35,278.48 L129.20,278.61 L130.05,278.75 L130.90,278.88 L131.75,279.02 L132.60,279.15 L133.44,279.29 L134.29,279.42 L135.14,279.56 L135.99,279.70 L136.84,279.83 L137.69,279.97 L138.54,280.10 L139.39,280.24 L140.24,280.37 L141.08,280.51 L141.93,280.64 L142.78,280.78 L143.63,280.91 L144.48,281.05 L145.33,281.18 L146.18,281.32 L147.03,281.45 L147.88,281.59 L148.72,281.73 L149.57,281.86 L150.42,282.00 L151.27,282.13 L152.12,282.27 L152.97,282.40 L153.82,282.54 L154.67,282.67 L155.52,282.81 L156.36,282.95 L157.21,283.08 L158.06,283.22 L158.91,283.35 L159.76,283.49 L160.61,283.63 L161.46,283.76 L162.31,283.90 L163.16,284.03 L164.00,284.17 L164.85,284.30 L165.70,284.44 L166.55,284.58 L167.40,284.71 L168.25,284.85 L169.10,284.99 L169.95,285.12 L170.80,285.26 L171.64,285.39 L172.49,285.53 L173.34,285.67 L174.19,285.80 L175.04,285.94 L175.89,286.08 L176.74,286.21 L177.59,286.35 L178.44,286.49 L179.28,286.62 L180.13,286.76 L180.98,286.90 L181.83,287.03 L182.68,287.17 L183.53,287.31 L184.38,287.44 L185.23,287.58 L186.07,287.72 L186.92,287.85 L187.77,287.99 L188.62,288.13 L189.47,288.26 L190.32,288.40 L191.17,288.54 L192.02,288.68 L192.87,288.81 L193.71,288.95 L194.56,289.09 L195.41,289.22 L196.26,289.36 L197.11,289.50 L197.96,289.64 L198.81,289.77 L199.66,289.91 L200.51,290.05 L201.35,290.19 L202.20,290.32 L203.05,290.46 L203.90,290.60 L204.75,290.74 L205.60,290.88 L206.45,291.01 L207.30,291.15 L208.15,291.29 L208.99,291.43 L209.84,291.57 L210.69,291.70 L211.54,291.84 L212.39,291.98 L213.24,292.12 L214.09,292.26 L214.94,292.40 L215.79,292.53 L216.63,292.67 L217.48,292.81 L218.33,292.95 L219.18,293.09 L220.03,293.23 L220.88,293.37 L221.73,293.51 L222.58,293.64 L223.43,293.78 L224.27,293.92 L225.12,294.06 L225.97,294.20 L226.82,294.34 L227.67,294.48 L228.52,294.62 L229.37,294.76 L230.22,294.90 L231.06,295.04 L231.91,295.18 L232.76,295.32 L233.61,295.46 L234.46,295.60 L235.31,295.74 L236.16,295.88 L237.01,296.02 L237.86,296.16 L238.70,296.30 L239.55,296.44 L240.40,296.58 L241.25,296.72 L242.10,296.86 L242.95,297.00 L243.80,297.14 L244.65,297.28 L245.50,297.42 L246.34,297.56 L247.19,297.71 L248.04,297.85 L248.89,297.99 L249.74,298.13 L250.59,298.27 L251.44,298.41 L252.29,298.55 L253.14,298.70 L253.98,298.84 L254.83,298.98 L255.68,299.12 L256.53,299.26 L257.38,299.41 L258.23,299.55 L259.08,299.69 L259.93,299.83 L260.78,299.98 L261.62,300.12 L262.47,300.26 L263.32,300.40 L264.17,300.55 L265.02,300.69 L265.87,300.83 L266.72,300.98 L267.57,301.12 L268.42,301.26 L269.26,301.41 L270.11,301.55 L270.96,301.70 L271.81,301.84 L272.66,301.98 L273.51,302.13 L274.36,302.27 L275.21,302.42 L276.06,302.56 L276.90,302.71 L277.75,302.85 L278.60,303.00 L279.45,303.14 L280.30,303.29 L281.15,303.43 L282.00,303.58 L282.85,303.72 L283.69,303.87 L284.54,304.01 L285.39,304.16 L286.24,304.31 L287.09,304.45 L287.94,304.60 L288.79,304.75 L289.64,304.89 L290.49,305.04 L291.33,305.19 L292.18,305.33 L293.03,305.48 L293.88,305.63 L294.73,305.78 L295.58,305.92 L296.43,306.07 L297.28,306.22 L298.13,306.37 L298.97,306.52 L299.82,306.67 L300.67,306.82 L301.52,306.96 L302.37,307.11 L303.22,307.26 L304.07,307.41 L304.92,307.56 L305.77,307.71 L306.61,307.86 L307.46,308.01 L308.31,308.16 L309.16,308.31 L310.01,308.46 L310.86,308.61 L311.71,308.77 L312.56,308.92 L313.41,309.07 L314.25,309.22 L315.10,309.37 L315.95,309.52 L316.80,309.68 L317.65,309.83 L318.50,309.98 L319.35,310.14 L320.20,310.29 L321.05,310.44 L321.89,310.60 L322.74,310.75 L323.59,310.90 L324.44,311.06 L325.29,311.21 L326.14,311.37 L326.99,311.52 L327.84,311.68 L328.69,311.83 L329.53,311.99 L330.38,312.15 L331.23,312.30 L332.08,312.46 L332.93,312.61 L333.78,312.77 L334.63,312.93 L335.48,313.09 L336.32,313.24 L337.17,313.40 L338.02,313.56 L338.87,313.72 L339.72,313.88 L340.57,314.04 L341.42,314.20 L342.27,314.36 L343.12,314.52 L343.96,314.68 L344.81,314.84 L345.66,315.00 L346.51,315.16 L347.36,315.32 L348.21,315.48 L349.06,315.65 L349.91,315.81 L350.76,315.97 L351.60,316.13 L352.45,316.30 L353.30,316.46 L354.15,316.62 L355.00,316.79 L355.85,316.95 L356.70,317.12 L357.55,317.28 L358.40,317.45 L359.24,317.62 L360.09,317.78 L360.94,317.95 L361.79,318.12 L362.64,318.28 L363.49,318.45 L364.34,318.62 L365.19,318.79 L366.04,318.96 L366.88,319.13 L367.73,319.30 L368.58,319.47 L369.43,319.64 L370.28,319.81 L371.13,319.98 L371.98,320.15 L372.83,320.33 L373.68,320.50 L374.52,320.67 L375.37,320.85 L376.22,321.02 L377.07,321.20 L377.92,321.37 L378.77,321.55 L379.62,321.72 L380.47,321.90 L381.31,322.07 L382.16,322.25 L383.01,322.43 L383.86,322.61 L384.71,322.79 L385.56,322.97 L386.41,323.15 L387.26,323.33 L388.11,323.51 L388.95,323.69 L389.80,323.87 L390.65,324.05 L391.50,324.24 L392.35,324.42 L393.20,324.60 L394.05,324.79 L394.90,324.97 L395.75,325.16 L396.59,325.35 L397.44,325.53 L398.29,325.72 L399.14,325.91 L399.99,326.10 L400.84,326.29 L401.69,326.48 L402.54,326.67 L403.39,326.86 L404.23,327.05 L405.08,327.24 L405.93,327.44 L406.78,327.63 L407.63,327.82 L408.48,328.02 L409.33,328.21 L410.18,328.41 L411.03,328.61 L411.87,328.81 L412.72,329.00 L413.57,329.20 L414.42,329.40 L415.27,329.60 L416.12,329.81 L416.97,330.01 L417.82,330.21 L418.67,330.41 L419.51,330.62 L420.36,330.82 L421.21,331.03 L422.06,331.24 L422.91,331.44 L423.76,331.65 L424.61,331.86 L425.46,332.07 L426.31,332.28 L427.15,332.49 L428.00,332.71 L428.85,332.92 L429.70,333.13 L430.55,333.35 L431.40,333.57 L432.25,333.78 L433.10,334.00 L433.94,334.22 L434.79,334.44 L435.64,334.66 L436.49,334.88 L437.34,335.10 L438.19,335.33 L439.04,335.55 L439.89,335.78 L440.74,336.01 L441.58,336.23 L442.43,336.46 L443.28,336.69 L444.13,336.92 L444.98,337.15 L445.83,337.39 L446.68,337.62 L447.53,337.86 L448.38,338.09 L449.22,338.33 L450.07,338.57 L450.92,338.81 L451.77,339.05 L452.62,339.29 L453.47,339.53 L454.32,339.78 L455.17,340.02 L456.02,340.27 L456.86,340.52 L457.71,340.77 L458.56,341.02 L459.41,341.27 L460.26,341.52 L461.11,341.78 L461.96,342.03 L462.81,342.29 L463.66,342.55 L464.50,342.81 L465.35,343.07 L466.20,343.33 L467.05,343.60 L467.90,343.86 L468.75,344.13 L469.60,344.40 L470.45,344.67 L471.30,344.94 L472.14,345.21 L472.99,345.49 L473.84,345.76 L474.69,346.04 L475.54,346.32 L476.39,346.60 L477.24,346.88 L478.09,347.17 L478.94,347.45 L479.78,347.74 L480.63,348.03 L481.48,348.32 L482.33,348.61 L483.18,348.91 L484.03,349.20 L484.88,349.50 L485.73,349.80 L486.57,350.10 L487.42,350.40 L488.27,350.71 L489.12,351.01 L489.97,351.32 L490.82,351.63 L491.67,351.95 L492.52,352.26 L493.37,352.58 L494.21,352.90 L495.06,353.22 L495.91,353.54 L496.76,353.86 L497.61,354.19 L498.46,354.52 L499.31,354.85 L500.16,355.18 L501.01,355.52 L501.85,355.86 L502.70,356.20 L503.55,356.54 L504.40,356.88 L505.25,357.23 L506.10,357.58 L506.95,357.93 L507.80,358.28 L508.65,358.64 L509.49,359.00 L510.34,359.36 L511.19,359.72 L512.04,360.09 L512.89,360.46 L513.74,360.83 L514.59,361.20 L515.44,361.58 L516.29,361.96 L517.13,362.34 L517.98,362.72 L518.83,363.11 L519.68,363.50 L520.53,363.89 L521.38,364.29 L522.23,364.69 L523.08,365.09 L523.93,365.49 L524.77,365.90 L525.62,366.31 L526.47,366.72 L527.32,367.14 L528.17,367.56 L529.02,367.98 L529.87,368.41 L530.72,368.84 L531.56,369.27 L532.41,369.70 L533.26,370.14 L534.11,370.59 L534.96,371.03 L535.81,371.48 L536.66,371.93 L537.51,372.39 L538.36,372.85 L539.20,373.31 L540.05,373.78 L540.90,374.25 L541.75,374.72 L542.60,375.20 L543.45,375.68 L544.30,376.16 L545.15,376.65 L546.00,377.15 L546.84,377.64 L547.69,378.14 L548.54,378.65 L549.39,379.16 L550.24,379.67 L551.09,380.19 L551.94,380.71 L552.79,381.23 L553.64,381.76 L554.48,382.30 L555.33,382.84 L556.18,383.38 L557.03,383.93 L557.88,384.48 L558.73,385.03 L559.58,385.60 L560.43,386.16 L561.28,386.73 L562.12,387.31 L562.97,387.89 L563.82,388.47 L564.67,389.06 L565.52,389.66 L566.37,390.26 L567.22,390.86 L568.07,391.47 L568.92,392.09 L569.76,392.71 L570.61,393.34 L571.46,393.97 L572.31,394.60 L573.16,395.25 L574.01,395.90 L574.86,396.55 L575.71,397.21 L576.56,397.87 L577.40,398.54 L578.25,399.22 L579.10,399.90 L579.95,400.59 L580.80,401.29 L581.65,401.99 L582.50,402.70 L583.35,403.41 L584.19,404.13 L585.04,404.85 L585.89,405.59 L586.74,406.33 L587.59,407.07 L588.44,407.82 L589.29,408.58 L590.14,409.35 L590.99,410.12 L591.83,410.90 L592.68,411.69 L593.53,412.49 L594.38,413.29 L595.23,414.10 L596.08,414.91 L596.93,415.74 L597.78,416.57 L598.63,417.41 L599.47,418.25 L600.32,419.11 L601.17,419.97 L602.02,420.84 L602.87,421.72 L603.72,422.60 L604.57,423.50 L605.42,424.40 L606.27,425.31 L607.11,426.23 L607.96,427.16 L608.81,428.10 L609.66,429.04 L610.51,430.00 L611.36,430.96 L612.21,431.94 L613.06,432.92 L613.91,433.91 L614.75,434.91 L615.60,435.92 L616.45,436.94 L617.30,437.97 L618.15,439.01 L619.00,440.06 L619.85,441.12 L620.70,442.19 L621.55,443.27 L622.39,444.36 L623.24,445.46 L624.09,446.57 L624.94,447.69 L625.79,448.82 L626.64,449.97 L627.49,451.12 L628.34,452.29 L629.19,453.46 L630.03,454.65 L630.88,455.85 L631.73,457.06 L632.58,458.29 L633.43,459.52 L634.28,460.77 L635.13,462.03 L635.98,463.30 L636.82,464.58 L637.67,465.88 L638.52,467.19 L639.37,468.51 L640.22,469.85 L641.07,471.20 L641.92,472.56 L642.77,473.93 L643.62,475.32 L644.46,476.73 L645.31,478.14 L646.16,479.57 L647.01,481.02 L647.86,482.48" stroke="#000" stroke-width="1.0" fill="none"/>
<path d="M54.50,332.29 L55.35,332.29 L56.20,332.29 L57.05,332.29 L57.90,332.29 L58.74,332.29 L59.59,332.30 L60.44,332.30 L61.29,332.30 L62.14,332.30 L62.99,332.30 L63.84,332.30 L64.69,332.30 L65.54,332.30 L66.38,332.30 L67.23,332.30 L68.08,332.31 L68.93,332.31 L69.78,332.31 L70.63,332.31 L71.48,332.31 L72.33,332.31 L73.18,332.31 L74.02,332.31 L74.87,332.31 L75.72,332.32 L76.57,332.32 L77.42,332.32 L78.27,332.32 L79.12,332.32 L79.97,332.32 L80.81,332.32 L81.66,332.32 L82.51,332.33 L83.36,332.33 L84.21,332.33 L85.06,332.33 L85.91,332.33 L86.76,332.33 L87.61,332.33 L88.45,332.33 L89.30,332.34 L90.15,332.34 L91.00,332.34 L91.85,332.34 L92.70,332.34 L93.55,332.34 L94.40,332.34 L95.25,332.35 L96.09,332.35 L96.94,332.35 L97.79,332.35 L98.64,332.35 L99.49,332.35 L100.34,332.36 L101.19,332.36 L102.04,332.36 L102.89,332.36 L103.73,332.36 L104.58,332.36 L105.43,332.37 L106.28,332.37 L107.13,332.37 L107.98,332.37 L108.83,332.37 L109.68,332.37 L110.53,332.38 L111.37,332.38 L112.22,332.38 L113.07,332.38 L113.92,332.38 L114.77,332.39 L115.62,332.39 L116.47,332.39 L117.32,332.39 L118.17,332.39 L119.01,332.40 L119.86,332.40 L120.71,332.40 L121.56,332.40 L122.41,332.40 L123.26,332.41 L124.11,332.41 L124.96,332.41 L125.81,332.41 L126.65,332.41 L127.50,332.42 L128.35,332.42 L129.20,332.42 L130.05,332.42 L130.90,332.43 L131.75,332.43 L132.60,332.43 L133.44,332.43 L134.29,332.44 L135.14,332.44 L135.99,332.44 L136.84,332.44 L137.69,332.45 L138.54,332.45 L139.39,332.45 L140.24,332.45 L141.08,332.46 L141.93,332.46 L142.78,332.46 L143.63,332.47 L144.48,332.47 L145.33,332.47 L146.18,332.47 L147.03,332.48 L147.88,332.48 L148.72,332.48 L149.57,332.49 L150.42,332.49 L151.27,332.49 L152.12,332.49 L152.97,332.50 L153.82,332.50 L154.67,332.50 L155.52,332.51 L156.36,332.51 L157.21,332.51 L158.06,332.52 L158.91,332.52 L159.76,332.52 L160.61,332.53 L161.46,332.53 L162.31,332.53 L163.16,332.54 L164.00,332.54 L164.85,332.55 L165.70,332.55 L166.55,332.55 L167.40,332.56 L168.25,332.56 L169.10,332.56 L169.95,332.57 L170.80,332.57 L171.64,332.58 L172.49,332.58 L173.34,332.58 L174.19,332.59 L175.04,332.59 L175.89,332.60 L176.74,332.60 L177.59,332.61 L178.44,332.61 L179.28,332.61 L180.13,332.62 L180.98,332.62 L181.83,332.63 L182.68,332.63 L183.53,332.64 L184.38,332.64 L185.23,332.65 L186.07,332.65 L186.92,332.66 L187.77,332.66 L188.62,332.67 L189.47,332.67 L190.32,332.68 L191.17,332.68 L192.02,332.69 L192.87,332.69 L193.71,332.70 L194.56,332.70 L195.41,332.71 L196.26,332.71 L197.11,332.72 L197.96,332.72 L198.81,332.73 L199.66,332.73 L200.51,332.74 L201.35,332.75 L202.20,332.75 L203.05,332.76 L203.90,332.76 L204.75,332.77 L205.60,332.78 L206.45,332.78 L207.30,332.79 L208.15,332.80 L208.99,332.80 L209.84,332.81 L210.69,332.81 L211.54,332.82 L212.39,332.83 L213.24,332.83 L214.09,332.84 L214.94,332.85 L215.79,332.86 L216.63,332.86 L217.48,332.87 L218.33,332.88 L219.18,332.88 L220.03,332.89 L220.88,332.90 L221.73,332.91 L222.58,332.91 L223.43,332.92 L224.27,332.93 L225.12,332.94 L225.97,332.95 L226.82,332.95 L227.67,332.96 L228.52,332.97 L229.37,332.98 L230.22,332.99 L231.06,333.00 L231.91,333.00 L232.76,333.01 L233.61,333.02 L234.46,333.03 L235.31,333.04 L236.16,333.05 L237.01,333.06 L237.86,333.07 L238.70,333.08 L239.55,333.09 L240.40,333.10 L241.25,333.11 L242.10,333.12 L242.95,333.13 L243.80,333.14 L244.65,333.15 L245.50,333.16 L246.34,333.17 L247.19,333.18 L248.04,333.19 L248.89,333.20 L249.74,333.21 L250.59,333.22 L251.44,333.23 L252.29,333.24 L253.14,333.25 L253.98,333.26 L254.83,333.28 L255.68,333.29 L256.53,333.30 L257.38,333.31 L258.23,333.32 L259.08,333.34 L259.93,333.35 L260.78,333.36 L261.62,333.37 L262.47,333.39 L263.32,333.40 L264.17,333.41 L265.02,333.43 L265.87,333.44 L266.72,333.45 L267.57,333.47 L268.42,333.48 L269.26,333.49 L270.11,333.51 L270.96,333.52 L271.81,333.54 L272.66,333.55 L273.51,333.56 L274.36,333.58 L275.21,333.59 L276.06,333.61 L276.90,333.63 L277.75,333.64 L278.60,333.66 L279.45,333.67 L280.30,333.69 L281.15,333.70 L282.00,333.72 L282.85,333.74 L283.69,333.75 L284.54,333.77 L285.39,333.79 L286.24,333.81 L287.09,333.82 L287.94,333.84 L288.79,333.86 L289.64,333.88 L290.49,333.89 L291.33,333.91 L292.18,333.93 L293.03,333.95 L293.88,333.97 L294.73,333.99 L295.58,334.01 L296.43,334.03 L297.28,334.05 L298.13,334.07 L298.97,334.09 L299.82,334.11 L300.67,334.13 L301.52,334.15 L302.37,334.17 L303.22,334.19 L304.07,334.21 L304.92,334.24 L305.77,334.26 L306.61,334.28 L307.46,334.30 L308.31,334.33 L309.16,334.35 L310.01,334.37 L310.86,334.40 L311.71,334.42 L312.56,334.45 L313.41,334.47 L314.25,334.49 L315.10,334.52 L315.95,334.54 L316.80,334.57 L317.65,334.60 L318.50,334.62 L319.35,334.65 L320.20,334.68 L321.05,334.70 L321.89,334.73 L322.74,334.76 L323.59,334.79 L324.44,334.81 L325.29,334.84 L326.14,334.87 L326.99,334.90 L327.84,334.93 L328.69,334.96 L329.53,334.99 L330.38,335.02 L331.23,335.05 L332.08,335.08 L332.93,335.11 L333.78,335.14 L334.63,335.18 L335.48,335.21 L336.32,335.24 L337.17,335.27 L338.02,335.31 L338.87,335.34 L339.72,335.38 L340.57,335.41 L341.42,335.45 L342.27,335.48 L343.12,335.52 L343.96,335.55 L344.81,335.59 L345.66,335.63 L346.51,335.66 L347.36,335.70 L348.21,335.74 L349.06,335.78 L349.91,335.82 L350.76,335.86 L351.60,335.90 L352.45,335.94 L353.30,335.98 L354.15,336.02 L355.00,336.06 L355.85,336.10 L356.70,336.15 L357.55,336.19 L358.40,336.23 L359.24,336.28 L360.09,336.32 L360.94,336.37 L361.79,336.41 L362.64,336.46 L363.49,336.50 L364.34,336.55 L365.19,336.60 L366.04,336.65 L366.88,336.70 L367.73,336.74 L368.58,336.79 L369.43,336.84 L370.28,336.89 L371.13,336.95 L371.98,337.00 L372.83,337.05 L373.68,337.10 L374.52,337.16 L375.37,337.21 L376.22,337.27 L377.07,337.32 L377.92,337.38 L378.77,337.43 L379.62,337.49 L380.47,337.55 L381.31,337.61 L382.16,337.67 L383.01,337.73 L383.86,337.79 L384.71,337.85 L385.56,337.91 L386.41,337.97 L387.26,338.03 L388.11,338.10 L388.95,338.16 L389.80,338.23 L390.65,338.29 L391.50,338.36 L392.35,338.43 L393.20,338.49 L394.05,338.56 L394.90,338.63 L395.75,338.70 L396.59,338.77 L397.44,338.85 L398.29,338.92 L399.14,338.99 L399.99,339.07 L400.84,339.14 L401.69,339.22 L402.54,339.29 L403.39,339.37 L404.23,339.45 L405.08,339.53 L405.93,339.61 L406.78,339.69 L407.63,339.77 L408.48,339.85 L409.33,339.94 L410.18,340.02 L411.03,340.11 L411.87,340.19 L412.72,340.28 L413.57,340.37 L414.42,340.46 L415.27,340.55 L416.12,340.64 L416.97,340.73 L417.82,340.82 L418.67,340.92 L419.51,341.01 L420.36,341.11 L421.21,341.21 L422.06,341.31 L422.91,341.41 L423.76,341.51 L424.61,341.61 L425.46,341.71 L426.31,341.81 L427.15,341.92 L428.00,342.03 L428.85,342.13 L429.70,342.24 L430.55,342.35 L431.40,342.46 L432.25,342.57 L433.10,342.69 L433.94,342.80 L434.79,342.92 L435.64,343.03 L436.49,343.15 L437.34,343.27 L438.19,343.39 L439.04,343.52 L439.89,343.64 L440.74,343.76 L441.58,343.89 L442.43,344.02 L443.28,344.15 L444.13,344.28 L444.98,344.41 L445.83,344.54 L446.68,344.68 L447.53,344.82 L448.38,344.95 L449.22,345.09 L450.07,345.23 L450.92,345.38 L451.77,345.52 L452.62,345.66 L453.47,345.81 L454.32,345.96 L455.17,346.11 L456.02,346.26 L456.86,346.42 L457.71,346.57 L458.56,346.73 L459.41,346.89 L460.26,347.05 L461.11,347.21 L461.96,347.37 L462.81,347.54 L463.66,347.71 L464.50,347.88 L465.35,348.05 L466.20,348.22 L467.05,348.40 L467.90,348.57 L468.75,348.75 L469.60,348.93 L470.45,349.12 L471.30,349.30 L472.14,349.49 L472.99,349.68 L473.84,349.87 L474.69,350.06 L475.54,350.26 L476.39,350.45 L477.24,350.65 L478.09,350.86 L478.94,351.06 L479.78,351.27 L480.63,351.47 L481.48,351.68 L482.33,351.90 L483.18,352.11 L484.03,352.33 L484.88,352.55 L485.73,352.77 L486.57,353.00 L487.42,353.22 L488.27,353.45 L489.12,353.69 L489.97,353.92 L490.82,354.16 L491.67,354.40 L492.52,354.64 L493.37,354.89 L494.21,355.14 L495.06,355.39 L495.91,355.64 L496.76,355.90 L497.61,356.15 L498.46,356.42 L499.31,356.68 L500.16,356.95 L501.01,357.22 L501.85,357.49 L502.70,357.77 L503.55,358.05 L504.40,358.33 L505.25,358.62 L506.10,358.91 L506.95,359.20 L507.80,359.49 L508.65,359.79 L509.49,360.09 L510.34,360.40 L511.19,360.70 L512.04,361.02 L512.89,361.33 L513.74,361.65 L514.59,361.97 L515.44,362.30 L516.29,362.63 L517.13,362.96 L517.98,363.29 L518.83,363.63 L519.68,363.98 L520.53,364.33 L521.38,364.68 L522.23,365.03 L523.08,365.39 L523.93,365.75 L524.77,366.12 L525.62,366.49 L526.47,366.87 L527.32,367.24 L528.17,367.63 L529.02,368.02 L529.87,368.41 L530.72,368.80 L531.56,369.20 L532.41,369.61 L533.26,370.02 L534.11,370.43 L534.96,370.85 L535.81,371.27 L536.66,371.70 L537.51,372.13 L538.36,372.56 L539.20,373.01 L540.05,373.45 L540.90,373.90 L541.75,374.36 L542.60,374.82 L543.45,375.29 L544.30,375.76 L545.15,376.23 L546.00,376.71 L546.84,377.20 L547.69,377.69 L548.54,378.19 L549.39,378.69 L550.24,379.20 L551.09,379.71 L551.94,380.23 L552.79,380.76 L553.64,381.29 L554.48,381.83 L555.33,382.37 L556.18,382.92 L557.03,383.47 L557.88,384.03 L558.73,384.60 L559.58,385.17 L560.43,385.75 L561.28,386.34 L562.12,386.93 L562.97,387.53 L563.82,388.13 L564.67,388.74 L565.52,389.36 L566.37,389.99 L567.22,390.62 L568.07,391.26 L568.92,391.90 L569.76,392.55 L570.61,393.21 L571.46,393.88 L572.31,394.56 L573.16,395.24 L574.01,395.93 L574.86,396.62 L575.71,397.33 L576.56,398.04 L577.40,398.76 L578.25,399.49 L579.10,400.22 L579.95,400.97 L580.80,401.72 L581.65,402.48 L582.50,403.25 L583.35,404.02 L584.19,404.81 L585.04,405.60 L585.89,406.40 L586.74,407.21 L587.59,408.03 L588.44,408.86 L589.29,409.70 L590.14,410.55 L590.99,411.41 L591.83,412.27 L592.68,413.15 L593.53,414.03 L594.38,414.93 L595.23,415.83 L596.08,416.75 L596.93,417.67 L597.78,418.60 L598.63,419.55 L599.47,420.50 L600.32,421.47 L601.17,422.44 L602.02,423.43 L602.87,424.43 L603.72,425.44 L604.57,426.46 L605.42,427.49 L606.27,428.53 L607.11,429.58 L607.96,430.65 L608.81,431.72 L609.66,432.81 L610.51,433.91 L611.36,435.02 L612.21,436.15 L613.06,437.28 L613.91,438.43 L614.75,439.59 L615.60,440.77 L616.45,441.95 L617.30,443.15 L618.15,444.37 L619.00,445.59 L619.85,446.83 L620.70,448.09 L621.55,449.35 L622.39,450.63 L623.24,451.93 L624.09,453.24 L624.94,454.56 L625.79,455.90 L626.64,457.25 L627.49,458.62 L628.34,460.00 L629.19,461.40 L630.03,462.81 L630.88,464.24 L631.73,465.68 L632.58,467.14 L633.43,468.62 L634.28,470.11 L635.13,471.61 L635.98,473.14 L636.82,474.68 L637.67,476.24 L638.52,477.81 L639.37,479.40 L640.22,481.01 L641.07,482.64 L641.92,484.28 L642.77,485.95 L643.62,487.63 L644.46,489.33 L645.31,491.05 L646.16,492.78 L647.01,494.54 L647.86,496.31" stroke="#0000ff" stroke-width="1.0" fill="none" stroke-dasharray="6.55,6.55"/>
<path d="M54.50,266.73 L55.35,266.86 L56.20,266.99 L57.05,267.12 L57.90,267.26 L58.74,267.39 L59.59,267.52 L60.44,267.66 L61.29,267.79 L62.14,267.92 L62.99,268.06 L63.84,268.19 L64.69,268.32 L65.54,268.46 L66.38,268.59 L67.23,268.72 L68.08,268.86 L68.93,268.99 L69.78,269.12 L70.63,269.26 L71.48,269.39 L72.33,269.52 L73.18,269.66 L74.02,269.79 L74.87,269.92 L75.72,270.06 L76.57,270.19 L77.42,270.32 L78.27,270.46 L79.12,270.59 L79.97,270.72 L80.81,270.86 L81.66,270.99 L82.51,271.12 L83.36,271.26 L84.21,271.39 L85.06,271.52 L85.91,271.66 L86.76,271.79 L87.61,271.92 L88.45,272.06 L89.30,272.19 L90.15,272.32 L91.00,272.46 L91.85,272.59 L92.70,272.72 L93.55,272.86 L94.40,272.99 L95.25,273.12 L96.09,273.26 L96.94,273.39 L97.79,273.52 L98.64,273.66 L99.49,273.79 L100.34,273.92 L101.19,274.06 L102.04,274.19 L102.89,274.32 L103.73,274.46 L104.58,274.59 L105.43,274.72 L106.28,274.86 L107.13,274.99 L107.98,275.12 L108.83,275.26 L109.68,275.39 L110.53,275.52 L111.37,275.66 L112.22,275.79 L113.07,275.92 L113.92,276.06 L114.77,276.19 L115.62,276.32 L116.47,276.46 L117.32,276.59 L118.17,276.72 L119.01,276.86 L119.86,276.99 L120.71,277.12 L121.56,277.26 L122.41,277.39 L123.26,277.52 L124.11,277.65 L124.96,277.79 L125.81,277.92 L126.65,278.05 L127.50,278.19 L128.35,278.32 L129.20,278.45 L130.05,278.59 L130.90,278.72 L131.75,278.85 L132.60,278.99 L133.44,279.12 L134.29,279.25 L135.14,279.39 L135.99,279.52 L136.84,279.65 L137.69,279.79 L138.54,279.92 L139.39,280.05 L140.24,280.19 L141.08,280.32 L141.93,280.45 L142.78,280.59 L143.63,280.72 L144.48,280.85 L145.33,280.99 L146.18,281.12 L147.03,281.25 L147.88,281.39 L148.72,281.52 L149.57,281.65 L150.42,281.79 L151.27,281.92 L152.12,282.05 L152.97,282.19 L153.82,282.32 L154.67,282.45 L155.52,282.59 L156.36,282.72 L157.21,282.85 L158.06,282.99 L158.91,283.12 L159.76,283.25 L160.61,283.39 L161.46,283.52 L162.31,283.65 L163.16,283.79 L164.00,283.92 L164.85,284.05 L165.70,284.19 L166.55,284.32 L167.40,284.45 L168.25,284.59 L169.10,284.72 L169.95,284.85 L170.80,284.99 L171.64,285.12 L172.49,285.25 L173.34,285.39 L174.19,285.52 L175.04,285.65 L175.89,285.79 L176.74,285.92 L177.59,286.05 L178.44,286.19 L179.28,286.32 L180.13,286.45 L180.98,286.59 L181.83,286.72 L182.68,286.85 L183.53,286.99 L184.38,287.12 L185.23,287.25 L186.07,287.39 L186.92,287.52 L187.77,287.65 L188.62,287.79 L189.47,287.92 L190.32,288.05 L191.17,288.19 L192.02,288.32 L192.87,288.45 L193.71,288.58 L194.56,288.72 L195.41,288.85 L196.26,288.98 L197.11,289.12 L197.96,289.25 L198.81,289.38 L199.66,289.52 L200.51,289.65 L201.35,289.78 L202.20,289.92 L203.05,290.05 L203.90,290.18 L204.75,290.32 L205.60,290.45 L206.45,290.58 L207.30,290.72 L208.15,290.85 L208.99,290.98 L209.84,291.12 L210.69,291.25 L211.54,291.38 L212.39,291.52 L213.24,291.65 L214.09,291.78 L214.94,291.92 L215.79,292.05 L216.63,292.18 L217.48,292.32 L218.33,292.45 L219.18,292.58 L220.03,292.72 L220.88,292.85 L221.73,292.98 L222.58,293.12 L223.43,293.25 L224.27,293.38 L225.12,293.52 L225.97,293.65 L226.82,293.78 L227.67,293.92 L228.52,294.05 L229.37,294.18 L230.22,294.32 L231.06,294.45 L231.91,294.58 L232.76,294.72 L233.61,294.85 L234.46,294.98 L235.31,295.12 L236.16,295.25 L237.01,295.38 L237.86,295.52 L238.70,295.65 L239.55,295.78 L240.40,295.92 L241.25,296.05 L242.10,296.18 L242.95,296.32 L243.80,296.45 L244.65,296.58 L245.50,296.72 L246.34,296.85 L247.19,296.98 L248.04,297.12 L248.89,297.25 L249.74,297.38 L250.59,297.52 L251.44,297.65 L252.29,297.78 L253.14,297.92 L253.98,298.05 L254.83,298.18 L255.68,298.32 L256.53,298.45 L257.38,298.58 L258.23,298.72 L259.08,298.85 L259.93,298.98 L260.78,299.12 L261.62,299.25 L262.47,299.38 L263.32,299.51 L264.17,299.65 L265.02,299.78 L265.87,299.91 L266.72,300.05 L267.57,300.18 L268.42,300.31 L269.26,300.45 L270.11,300.58 L270.96,300.71 L271.81,300.85 L272.66,300.98 L273.51,301.11 L274.36,301.25 L275.21,301.38 L276.06,301.51 L276.90,301.65 L277.75,301.78 L278.60,301.91 L279.45,302.05 L280.30,302.18 L281.15,302.31 L282.00,302.45 L282.85,302.58 L283.69,302.71 L284.54,302.85 L285.39,302.98 L286.24,303.11 L287.09,303.25 L287.94,303.38 L288.79,303.51 L289.64,303.65 L290.49,303.78 L291.33,303.91 L292.18,304.05 L293.03,304.18 L293.88,304.31 L294.73,304.45 L295.58,304.58 L296.43,304.71 L297.28,304.85 L298.13,304.98 L298.97,305.11 L299.82,305.25 L300.67,305.38 L301.52,305.51 L302.37,305.65 L303.22,305.78 L304.07,305.91 L304.92,306.05 L305.77,306.18 L306.61,306.31 L307.46,306.45 L308.31,306.58 L309.16,306.71 L310.01,306.85 L310.86,306.98 L311.71,307.11 L312.56,307.25 L313.41,307.38 L314.25,307.51 L315.10,307.65 L315.95,307.78 L316.80,307.91 L317.65,308.05 L318.50,308.18 L319.35,308.31 L320.20,308.45 L321.05,308.58 L321.89,308.71 L322.74,308.85 L323.59,308.98 L324.44,309.11 L325.29,309.25 L326.14,309.38 L326.99,309.51 L327.84,309.65 L328.69,309.78 L329.53,309.91 L330.38,310.05 L331.23,310.18 L332.08,310.31 L332.93,310.44 L333.78,310.58 L334.63,310.71 L335.48,310.84 L336.32,310.98 L337.17,311.11 L338.02,311.24 L338.87,311.38 L339.72,311.51 L340.57,311.64 L341.42,311.78 L342.27,311.91 L343.12,312.04 L343.96,312.18 L344.81,312.31 L345.66,312.44 L346.51,312.58 L347.36,312.71 L348.21,312.84 L349.06,312.98 L349.91,313.11 L350.76,313.24 L351.60,313.38 L352.45,313.51 L353.30,313.64 L354.15,313.78 L355.00,313.91 L355.85,314.04 L356.70,314.18 L357.55,314.31 L358.40,314.44 L359.24,314.58 L360.09,314.71 L360.94,314.84 L361.79,314.98 L362.64,315.11 L363.49,315.24 L364.34,315.38 L365.19,315.51 L366.04,315.64 L366.88,315.78 L367.73,315.91 L368.58,316.04 L369.43,316.18 L370.28,316.31 L371.13,316.44 L371.98,316.58 L372.83,316.71 L373.68,316.84 L374.52,316.98 L375.37,317.11 L376.22,317.24 L377.07,317.38 L377.92,317.51 L378.77,317.64 L379.62,317.78 L380.47,317.91 L381.31,318.04 L382.16,318.18 L383.01,318.31 L383.86,318.44 L384.71,318.58 L385.56,318.71 L386.41,318.84 L387.26,318.98 L388.11,319.11 L388.95,319.24 L389.80,319.38 L390.65,319.51 L391.50,319.64 L392.35,319.78 L393.20,319.91 L394.05,320.04 L394.90,320.18 L395.75,320.31 L396.59,320.44 L397.44,320.58 L398.29,320.71 L399.14,320.84 L399.99,320.98 L400.84,321.11 L401.69,321.24 L402.54,321.37 L403.39,321.51 L404.23,321.64 L405.08,321.77 L405.93,321.91 L406.78,322.04 L407.63,322.17 L408.48,322.31 L409.33,322.44 L410.18,322.57 L411.03,322.71 L411.87,322.84 L412.72,322.97 L413.57,323.11 L414.42,323.24 L415.27,323.37 L416.12,323.51 L416.97,323.64 L417.82,323.77 L418.67,323.91 L419.51,324.04 L420.36,324.17 L421.21,324.31 L422.06,324.44 L422.91,324.57 L423.76,324.71 L424.61,324.84 L425.46,324.97 L426.31,325.11 L427.15,325.24 L428.00,325.37 L428.85,325.51 L429.70,325.64 L430.55,325.77 L431.40,325.91 L432.25,326.04 L433.10,326.17 L433.94,326.31 L434.79,326.44 L435.64,326.57 L436.49,326.71 L437.34,326.84 L438.19,326.97 L439.04,327.11 L439.89,327.24 L440.74,327.37 L441.58,327.51 L442.43,327.64 L443.28,327.77 L444.13,327.91 L444.98,328.04 L445.83,328.17 L446.68,328.31 L447.53,328.44 L448.38,328.57 L449.22,328.71 L450.07,328.84 L450.92,328.97 L451.77,329.11 L452.62,329.24 L453.47,329.37 L454.32,329.51 L455.17,329.64 L456.02,329.77 L456.86,329.91 L457.71,330.04 L458.56,330.17 L459.41,330.31 L460.26,330.44 L461.11,330.57 L461.96,330.71 L462.81,330.84 L463.66,330.97 L464.50,331.11 L465.35,331.24 L466.20,331.37 L467.05,331.51 L467.90,331.64 L468.75,331.77 L469.60,331.91 L470.45,332.04 L471.30,332.17 L472.14,332.30 L472.99,332.44 L473.84,332.57 L474.69,332.70 L475.54,332.84 L476.39,332.97 L477.24,333.10 L478.09,333.24 L478.94,333.37 L479.78,333.50 L480.63,333.64 L481.48,333.77 L482.33,333.90 L483.18,334.04 L484.03,334.17 L484.88,334.30 L485.73,334.44 L486.57,334.57 L487.42,334.70 L488.27,334.84 L489.12,334.97 L489.97,335.10 L490.82,335.24 L491.67,335.37 L492.52,335.50 L493.37,335.64 L494.21,335.77 L495.06,335.90 L495.91,336.04 L496.76,336.17 L497.61,336.30 L498.46,336.44 L499.31,336.57 L500.16,336.70 L501.01,336.84 L501.85,336.97 L502.70,337.10 L503.55,337.24 L504.40,337.37 L505.25,337.50 L506.10,337.64 L506.95,337.77 L507.80,337.90 L508.65,338.04 L509.49,338.17 L510.34,338.30 L511.19,338.44 L512.04,338.57 L512.89,338.70 L513.74,338.84 L514.59,338.97 L515.44,339.10 L516.29,339.24 L517.13,339.37 L517.98,339.50 L518.83,339.64 L519.68,339.77 L520.53,339.90 L521.38,340.04 L522.23,340.17 L523.08,340.30 L523.93,340.44 L524.77,340.57 L525.62,340.70 L526.47,340.84 L527.32,340.97 L528.17,341.10 L529.02,341.24 L529.87,341.37 L530.72,341.50 L531.56,341.64 L532.41,341.77 L533.26,341.90 L534.11,342.04 L534.96,342.17 L535.81,342.30 L536.66,342.44 L537.51,342.57 L538.36,342.70 L539.20,342.84 L540.05,342.97 L540.90,343.10 L541.75,343.23 L542.60,343.37 L543.45,343.50 L544.30,343.63 L545.15,343.77 L546.00,343.90 L546.84,344.03 L547.69,344.17 L548.54,344.30 L549.39,344.43 L550.24,344.57 L551.09,344.70 L551.94,344.83 L552.79,344.97 L553.64,345.10 L554.48,345.23 L555.33,345.37 L556.18,345.50 L557.03,345.63 L557.88,345.77 L558.73,345.90 L559.58,346.03 L560.43,346.17 L561.28,346.30 L562.12,346.43 L562.97,346.57 L563.82,346.70 L564.67,346.83 L565.52,346.97 L566.37,347.10 L567.22,347.23 L568.07,347.37 L568.92,347.50 L569.76,347.63 L570.61,347.77 L571.46,347.90 L572.31,348.03 L573.16,348.17 L574.01,348.30 L574.86,348.43 L575.71,348.57 L576.56,348.70 L577.40,348.83 L578.25,348.97 L579.10,349.10 L579.95,349.23 L580.80,349.37 L581.65,349.50 L582.50,349.63 L583.35,349.77 L584.19,349.90 L585.04,350.03 L585.89,350.17 L586.74,350.30 L587.59,350.43 L588.44,350.57 L589.29,350.70 L590.14,350.83 L590.99,350.97 L591.83,351.10 L592.68,351.23 L593.53,351.37 L594.38,351.50 L595.23,351.63 L596.08,351.77 L596.93,351.90 L597.78,352.03 L598.63,352.17 L599.47,352.30 L600.32,352.43 L601.17,352.57 L602.02,352.70 L602.87,352.83 L603.72,352.97 L604.57,353.10 L605.42,353.23 L606.27,353.37 L607.11,353.50 L607.96,353.63 L608.81,353.77 L609.66,353.90 L610.51,354.03 L611.36,354.16 L612.21,354.30 L613.06,354.43 L613.91,354.56 L614.75,354.70 L615.60,354.83 L616.45,354.96 L617.30,355.10 L618.15,355.23 L619.00,355.36 L619.85,355.50 L620.70,355.63 L621.55,355.76 L622.39,355.90 L623.24,356.03 L624.09,356.16 L624.94,356.30 L625.79,356.43 L626.64,356.56 L627.49,356.70 L628.34,356.83 L629.19,356.96 L630.03,357.10 L630.88,357.23 L631.73,357.36 L632.58,357.50 L633.43,357.63 L634.28,357.76 L635.13,357.90 L635.98,358.03 L636.82,358.16 L637.67,358.30 L638.52,358.43 L639.37,358.56 L640.22,358.70 L641.07,358.83 L641.92,358.96 L642.77,359.10 L643.62,359.23 L644.46,359.36 L645.31,359.50 L646.16,359.63 L647.01,359.76 L647.86,359.90" stroke="#ff0000" stroke-width="1.0" fill="none" stroke-dasharray="1.3,3.27"/>
</g>
<path d="M529.84,238.5V407.85" stroke="#000" stroke-width="0.9" fill="none" stroke-dasharray="6.8,3.3,1.3,3.3" stroke-dashoffset="-1.1"/>
<path d="M234.25,238.5V407.85" stroke="#000" stroke-width="0.9" fill="none" stroke-dasharray="6.8,3.3,1.3,3.3" stroke-dashoffset="-1.1"/>
<clipPath id="c3"><rect x="54.5" y="460.0" width="593.36" height="169.47000000000003"/></clipPath>
<g clip-path="url(#c3)">
<path d="M54.50,-7878.20 L55.35,-7786.56 L56.20,-7695.91 L57.05,-7606.24 L57.90,-7517.54 L58.74,-7429.80 L59.59,-7343.01 L60.44,-7257.16 L61.29,-7172.24 L62.14,-7088.23 L62.99,-7005.13 L63.84,-6922.94 L64.69,-6841.63 L65.54,-6761.20 L66.38,-6681.64 L67.23,-6602.94 L68.08,-6525.09 L68.93,-6448.09 L69.78,-6371.91 L70.63,-6296.56 L71.48,-6222.03 L72.33,-6148.30 L73.18,-6075.37 L74.02,-6003.23 L74.87,-5931.87 L75.72,-5861.28 L76.57,-5791.45 L77.42,-5722.38 L78.27,-5654.06 L79.12,-5586.47 L79.97,-5519.62 L80.81,-5453.49 L81.66,-5388.07 L82.51,-5323.36 L83.36,-5259.35 L84.21,-5196.04 L85.06,-5133.41 L85.91,-5071.45 L86.76,-5010.17 L87.61,-4949.55 L88.45,-4889.58 L89.30,-4830.26 L90.15,-4771.59 L91.00,-4713.55 L91.85,-4656.13 L92.70,-4599.34 L93.55,-4543.16 L94.40,-4487.59 L95.25,-4432.63 L96.09,-4378.25 L96.94,-4324.46 L97.79,-4271.26 L98.64,-4218.63 L99.49,-4166.57 L100.34,-4115.07 L101.19,-4064.13 L102.04,-4013.74 L102.89,-3963.90 L103.73,-3914.60 L104.58,-3865.82 L105.43,-3817.58 L106.28,-3769.86 L107.13,-3722.65 L107.98,-3675.96 L108.83,-3629.77 L109.68,-3584.07 L110.53,-3538.88 L111.37,-3494.17 L112.22,-3449.95 L113.07,-3406.20 L113.92,-3362.93 L114.77,-3320.12 L115.62,-3277.78 L116.47,-3235.90 L117.32,-3194.47 L118.17,-3153.48 L119.01,-3112.94 L119.86,-3072.84 L120.71,-3033.18 L121.56,-2993.94 L122.41,-2955.12 L123.26,-2916.73 L124.11,-2878.75 L124.96,-2841.18 L125.81,-2804.02 L126.65,-2767.26 L127.50,-2730.90 L128.35,-2694.93 L129.20,-2659.35 L130.05,-2624.16 L130.90,-2589.35 L131.75,-2554.91 L132.60,-2520.84 L133.44,-2487.15 L134.29,-2453.82 L135.14,-2420.85 L135.99,-2388.23 L136.84,-2355.97 L137.69,-2324.06 L138.54,-2292.49 L139.39,-2261.26 L140.24,-2230.37 L141.08,-2199.82 L141.93,-2169.60 L142.78,-2139.70 L143.63,-2110.13 L144.48,-2080.87 L145.33,-2051.94 L146.18,-2023.31 L147.03,-1995.00 L147.88,-1966.99 L148.72,-1939.29 L149.57,-1911.88 L150.42,-1884.77 L151.27,-1857.96 L152.12,-1831.43 L152.97,-1805.19 L153.82,-1779.24 L154.67,-1753.56 L155.52,-1728.17 L156.36,-1703.05 L157.21,-1678.20 L158.06,-1653.62 L158.91,-1629.30 L159.76,-1605.25 L160.61,-1581.46 L161.46,-1557.93 L162.31,-1534.65 L163.16,-1511.62 L164.00,-1488.84 L164.85,-1466.31 L165.70,-1444.02 L166.55,-1421.97 L167.40,-1400.16 L168.25,-1378.59 L169.10,-1357.25 L169.95,-1336.14 L170.80,-1315.26 L171.64,-1294.61 L172.49,-1274.18 L173.34,-1253.97 L174.19,-1233.98 L175.04,-1214.21 L175.89,-1194.65 L176.74,-1175.30 L177.59,-1156.16 L178.44,-1137.22 L179.28,-1118.50 L180.13,-1099.97 L180.98,-1081.65 L181.83,-1063.52 L182.68,-1045.59 L183.53,-1027.86 L184.38,-1010.31 L185.23,-992.96 L186.07,-975.79 L186.92,-958.81 L187.77,-942.02 L188.62,-925.40 L189.47,-908.97 L190.32,-892.71 L191.17,-876.63 L192.02,-860.72 L192.87,-844.99 L193.71,-829.42 L194.56,-814.03 L195.41,-798.80 L196.26,-783.73 L197.11,-768.83 L197.96,-754.09 L198.81,-739.51 L199.66,-725.09 L200.51,-710.82 L201.35,-696.71 L202.20,-682.75 L203.05,-668.94 L203.90,-655.28 L204.75,-641.77 L205.60,-628.41 L206.45,-615.19 L207.30,-602.11 L208.15,-589.17 L208.99,-576.38 L209.84,-563.72 L210.69,-551.20 L211.54,-538.82 L212.39,-526.57 L213.24,-514.45 L214.09,-502.47 L214.94,-490.61 L215.79,-478.88 L216.63,-467.28 L217.48,-455.81 L218.33,-444.46 L219.18,-433.23 L220.03,-422.12 L220.88,-411.14 L221.73,-400.27 L222.58,-389.52 L223.43,-378.89 L224.27,-368.37 L225.12,-357.97 L225.97,-347.68 L226.82,-337.50 L227.67,-327.43 L228.52,-317.47 L229.37,-307.62 L230.22,-297.87 L231.06,-288.23 L231.91,-278.70 L232.76,-269.26 L233.61,-259.94 L234.46,-250.71 L235.31,-241.58 L236.16,-232.55 L237.01,-223.62 L237.86,-214.78 L238.70,-206.04 L239.55,-197.40 L240.40,-188.85 L241.25,-180.39 L242.10,-172.03 L242.95,-163.75 L243.80,-155.57 L244.65,-147.47 L245.50,-139.46 L246.34,-131.54 L247.19,-123.70 L248.04,-115.95 L248.89,-108.29 L249.74,-100.70 L250.59,-93.20 L251.44,-85.78 L252.29,-78.44 L253.14,-71.18 L253.98,-64.00 L254.83,-56.90 L255.68,-49.87 L256.53,-42.92 L257.38,-36.05 L258.23,-29.25 L259.08,-22.53 L259.93,-15.87 L260.78,-9.29 L261.62,-2.78 L262.47,3.65 L263.32,10.02 L264.17,16.32 L265.02,22.55 L265.87,28.71 L266.72,34.81 L267.57,40.84 L268.42,46.80 L269.26,52.70 L270.11,58.54 L270.96,64.31 L271.81,70.01 L272.66,75.66 L273.51,81.25 L274.36,86.77 L275.21,92.23 L276.06,97.64 L276.90,102.98 L277.75,108.27 L278.60,113.50 L279.45,118.67 L280.30,123.79 L281.15,128.85 L282.00,133.86 L282.85,138.81 L283.69,143.71 L284.54,148.55 L285.39,153.34 L286.24,158.08 L287.09,162.77 L287.94,167.40 L288.79,171.99 L289.64,176.52 L290.49,181.01 L291.33,185.45 L292.18,189.83 L293.03,194.17 L293.88,198.47 L294.73,202.71 L295.58,206.91 L296.43,211.07 L297.28,215.17 L298.13,219.24 L298.97,223.26 L299.82,227.23 L300.67,231.16 L301.52,235.05 L302.37,238.90 L303.22,242.70 L304.07,246.46 L304.92,250.18 L305.77,253.86 L306.61,257.50 L307.46,261.10 L308.31,264.66 L309.16,268.19 L310.01,271.67 L310.86,275.11 L311.71,278.52 L312.56,281.89 L313.41,285.22 L314.25,288.52 L315.10,291.77 L315.95,295.00 L316.80,298.19 L317.65,301.34 L318.50,304.46 L319.35,307.54 L320.20,310.59 L321.05,313.61 L321.89,316.59 L322.74,319.54 L323.59,322.46 L324.44,325.34 L325.29,328.19 L326.14,331.02 L326.99,333.81 L327.84,336.57 L328.69,339.29 L329.53,341.99 L330.38,344.66 L331.23,347.30 L332.08,349.91 L332.93,352.49 L333.78,355.04 L334.63,357.57 L335.48,360.06 L336.32,362.53 L337.17,364.97 L338.02,367.39 L338.87,369.77 L339.72,372.13 L340.57,374.47 L341.42,376.78 L342.27,379.06 L343.12,381.31 L343.96,383.55 L344.81,385.75 L345.66,387.93 L346.51,390.09 L347.36,392.22 L348.21,394.33 L349.06,396.42 L349.91,398.48 L350.76,400.52 L351.60,402.54 L352.45,404.53 L353.30,406.50 L354.15,408.45 L355.00,410.37 L355.85,412.28 L356.70,414.16 L357.55,416.02 L358.40,417.87 L359.24,419.69 L360.09,421.48 L360.94,423.26 L361.79,425.02 L362.64,426.76 L363.49,428.48 L364.34,430.18 L365.19,431.86 L366.04,433.52 L366.88,435.16 L367.73,436.78 L368.58,438.39 L369.43,439.97 L370.28,441.54 L371.13,443.09 L371.98,444.62 L372.83,446.14 L373.68,447.63 L374.52,449.11 L375.37,450.58 L376.22,452.02 L377.07,453.45 L377.92,454.86 L378.77,456.26 L379.62,457.64 L380.47,459.00 L381.31,460.35 L382.16,461.68 L383.01,463.00 L383.86,464.30 L384.71,465.58 L385.56,466.85 L386.41,468.11 L387.26,469.35 L388.11,470.57 L388.95,471.78 L389.80,472.98 L390.65,474.16 L391.50,475.33 L392.35,476.49 L393.20,477.63 L394.05,478.76 L394.90,479.87 L395.75,480.97 L396.59,482.06 L397.44,483.13 L398.29,484.19 L399.14,485.24 L399.99,486.28 L400.84,487.30 L401.69,488.31 L402.54,489.31 L403.39,490.29 L404.23,491.27 L405.08,492.23 L405.93,493.18 L406.78,494.12 L407.63,495.05 L408.48,495.96 L409.33,496.87 L410.18,497.76 L411.03,498.64 L411.87,499.51 L412.72,500.37 L413.57,501.22 L414.42,502.06 L415.27,502.89 L416.12,503.70 L416.97,504.51 L417.82,505.31 L418.67,506.09 L419.51,506.87 L420.36,507.64 L421.21,508.39 L422.06,509.14 L422.91,509.88 L423.76,510.60 L424.61,511.32 L425.46,512.03 L426.31,512.73 L427.15,513.42 L428.00,514.10 L428.85,514.77 L429.70,515.44 L430.55,516.09 L431.40,516.74 L432.25,517.38 L433.10,518.00 L433.94,518.62 L434.79,519.24 L435.64,519.84 L436.49,520.43 L437.34,521.02 L438.19,521.60 L439.04,522.17 L439.89,522.73 L440.74,523.29 L441.58,523.84 L442.43,524.38 L443.28,524.91 L444.13,525.43 L444.98,525.95 L445.83,526.46 L446.68,526.96 L447.53,527.46 L448.38,527.95 L449.22,528.43 L450.07,528.90 L450.92,529.37 L451.77,529.83 L452.62,530.28 L453.47,530.73 L454.32,531.17 L455.17,531.60 L456.02,532.03 L456.86,532.45 L457.71,532.87 L458.56,533.28 L459.41,533.68 L460.26,534.07 L461.11,534.46 L461.96,534.85 L462.81,535.22 L463.66,535.60 L464.50,535.96 L465.35,536.32 L466.20,536.68 L467.05,537.02 L467.90,537.37 L468.75,537.71 L469.60,538.04 L470.45,538.36 L471.30,538.69 L472.14,539.00 L472.99,539.31 L473.84,539.62 L474.69,539.92 L475.54,540.21 L476.39,540.50 L477.24,540.79 L478.09,541.07 L478.94,541.34 L479.78,541.62 L480.63,541.88 L481.48,542.14 L482.33,542.40 L483.18,542.65 L484.03,542.90 L484.88,543.14 L485.73,543.38 L486.57,543.62 L487.42,543.85 L488.27,544.07 L489.12,544.29 L489.97,544.51 L490.82,544.72 L491.67,544.93 L492.52,545.14 L493.37,545.34 L494.21,545.54 L495.06,545.73 L495.91,545.92 L496.76,546.11 L497.61,546.29 L498.46,546.47 L499.31,546.64 L500.16,546.81 L501.01,546.98 L501.85,547.15 L502.70,547.31 L503.55,547.46 L504.40,547.62 L505.25,547.77 L506.10,547.92 L506.95,548.06 L507.80,548.20 L508.65,548.34 L509.49,548.48 L510.34,548.61 L511.19,548.74 L512.04,548.86 L512.89,548.99 L513.74,549.11 L514.59,549.23 L515.44,549.34 L516.29,549.45 L517.13,549.56 L517.98,549.67 L518.83,549.78 L519.68,549.88 L520.53,549.98 L521.38,550.07 L522.23,550.17 L523.08,550.26 L523.93,550.35 L524.77,550.44 L525.62,550.52 L526.47,550.61 L527.32,550.69 L528.17,550.77 L529.02,550.84 L529.87,550.92 L530.72,550.99 L531.56,551.06 L532.41,551.13 L533.26,551.19 L534.11,551.26 L534.96,551.32 L535.81,551.38 L536.66,551.44 L537.51,551.50 L538.36,551.56 L539.20,551.61 L540.05,551.66 L540.90,551.71 L541.75,551.76 L542.60,551.81 L543.45,551.86 L544.30,551.90 L545.15,551.95 L546.00,551.99 L546.84,552.03 L547.69,552.07 L548.54,552.11 L549.39,552.14 L550.24,552.18 L551.09,552.21 L551.94,552.25 L552.79,552.28 L553.64,552.31 L554.48,552.34 L555.33,552.37 L556.18,552.39 L557.03,552.42 L557.88,552.44 L558.73,552.47 L559.58,552.49 L560.43,552.51 L561.28,552.54 L562.12,552.56 L562.97,552.58 L563.82,552.59 L564.67,552.61 L565.52,552.63 L566.37,552.64 L567.22,552.66 L568.07,552.67 L568.92,552.69 L569.76,552.70 L570.61,552.71 L571.46,552.73 L572.31,552.74 L573.16,552.75 L574.01,552.76 L574.86,552.77 L575.71,552.78 L576.56,552.78 L577.40,552.79 L578.25,552.80 L579.10,552.80 L579.95,552.81 L580.80,552.82 L581.65,552.82 L582.50,552.83 L583.35,552.83 L584.19,552.83 L585.04,552.84 L585.89,552.84 L586.74,552.84 L587.59,552.85 L588.44,552.85 L589.29,552.85 L590.14,552.85 L590.99,552.86 L591.83,552.86 L592.68,552.86 L593.53,552.86 L594.38,552.86 L595.23,552.86 L596.08,552.86 L596.93,552.86 L597.78,552.86 L598.63,552.87 L599.47,552.87 L600.32,552.87 L601.17,552.87 L602.02,552.87 L602.87,552.87 L603.72,552.87 L604.57,552.87 L605.42,552.87 L606.27,552.87 L607.11,552.87 L607.96,552.87 L608.81,552.87 L609.66,552.87 L610.51,552.87 L611.36,552.87 L612.21,552.87 L613.06,552.87 L613.91,552.87 L614.75,552.87 L615.60,552.87 L616.45,552.87 L617.30,552.87 L618.15,552.87 L619.00,552.87 L619.85,552.87 L620.70,552.87 L621.55,552.87 L622.39,552.87 L623.24,552.87 L624.09,552.87 L624.94,552.87 L625.79,552.87 L626.64,552.87 L627.49,552.87 L628.34,552.87 L629.19,552.87 L630.03,552.87 L630.88,552.87 L631.73,552.87 L632.58,552.87 L633.43,552.87 L634.28,552.87 L635.13,552.87 L635.98,552.87 L636.82,552.87 L637.67,552.87 L638.52,552.87 L639.37,552.87 L640.22,552.87 L641.07,552.87 L641.92,552.87 L642.77,552.87 L643.62,552.87 L644.46,552.87 L645.31,552.87 L646.16,552.87 L647.01,552.87 L647.86,552.87" stroke="#ff0000" stroke-width="1.0" fill="none"/>
</g>
<path d="M54.5,544.74H647.86" stroke="#000" stroke-width="0.9" fill="none" stroke-dasharray="1.3,3.27"/>
<path d="M490.86,460.0V629.47" stroke="#000" stroke-width="0.9" fill="none" stroke-dasharray="6.8,3.3,1.3,3.3" stroke-dashoffset="-1.1"/>
<text x="304.00" y="136.00" font-size="13.8" text-anchor="middle" >Eigenstates decoupled</text>
<text x="526.84" y="177.9" font-size="13.8" text-anchor="end">r=r<tspan font-size="9.7" dy="3.5">M</tspan></text>
<text x="135.80" y="255.75" font-size="13.8" text-anchor="middle" >V(r) ~ 1/r</text>
<text x="156.00" y="268.40" font-size="13.8" text-anchor="middle" >(potential dominated)</text>
<text x="356.90" y="255.95" font-size="13.8" text-anchor="middle" >WKB region</text>
<text x="540" y="255.9" font-size="13.8" text-anchor="start">V(r) ~ V<tspan font-size="9" dy="3.6">0</tspan><tspan dy="-3.6"> e</tspan><tspan font-size="8.5" dy="-6.1" letter-spacing="0.15">-μ r</tspan></text>
<text x="582.90" y="271.20" font-size="13.8" text-anchor="middle" >(exactly solvable</text>
<text x="586.60" y="287.00" font-size="13.8" text-anchor="middle" >2-state system)</text>
<text x="226.90" y="399.30" font-size="13.8" text-anchor="end" >r=1</text>
<text x="526.84" y="399.5" font-size="13.8" text-anchor="end">r=r<tspan font-size="9.7" dy="3.4">M</tspan></text>
<text x="485.60" y="604.00" font-size="13.8" text-anchor="end" >WKB turning point</text>
<text x="485.00" y="620.80" font-size="13.8" text-anchor="end" >r=r*</text>
</svg>
</body></html>
